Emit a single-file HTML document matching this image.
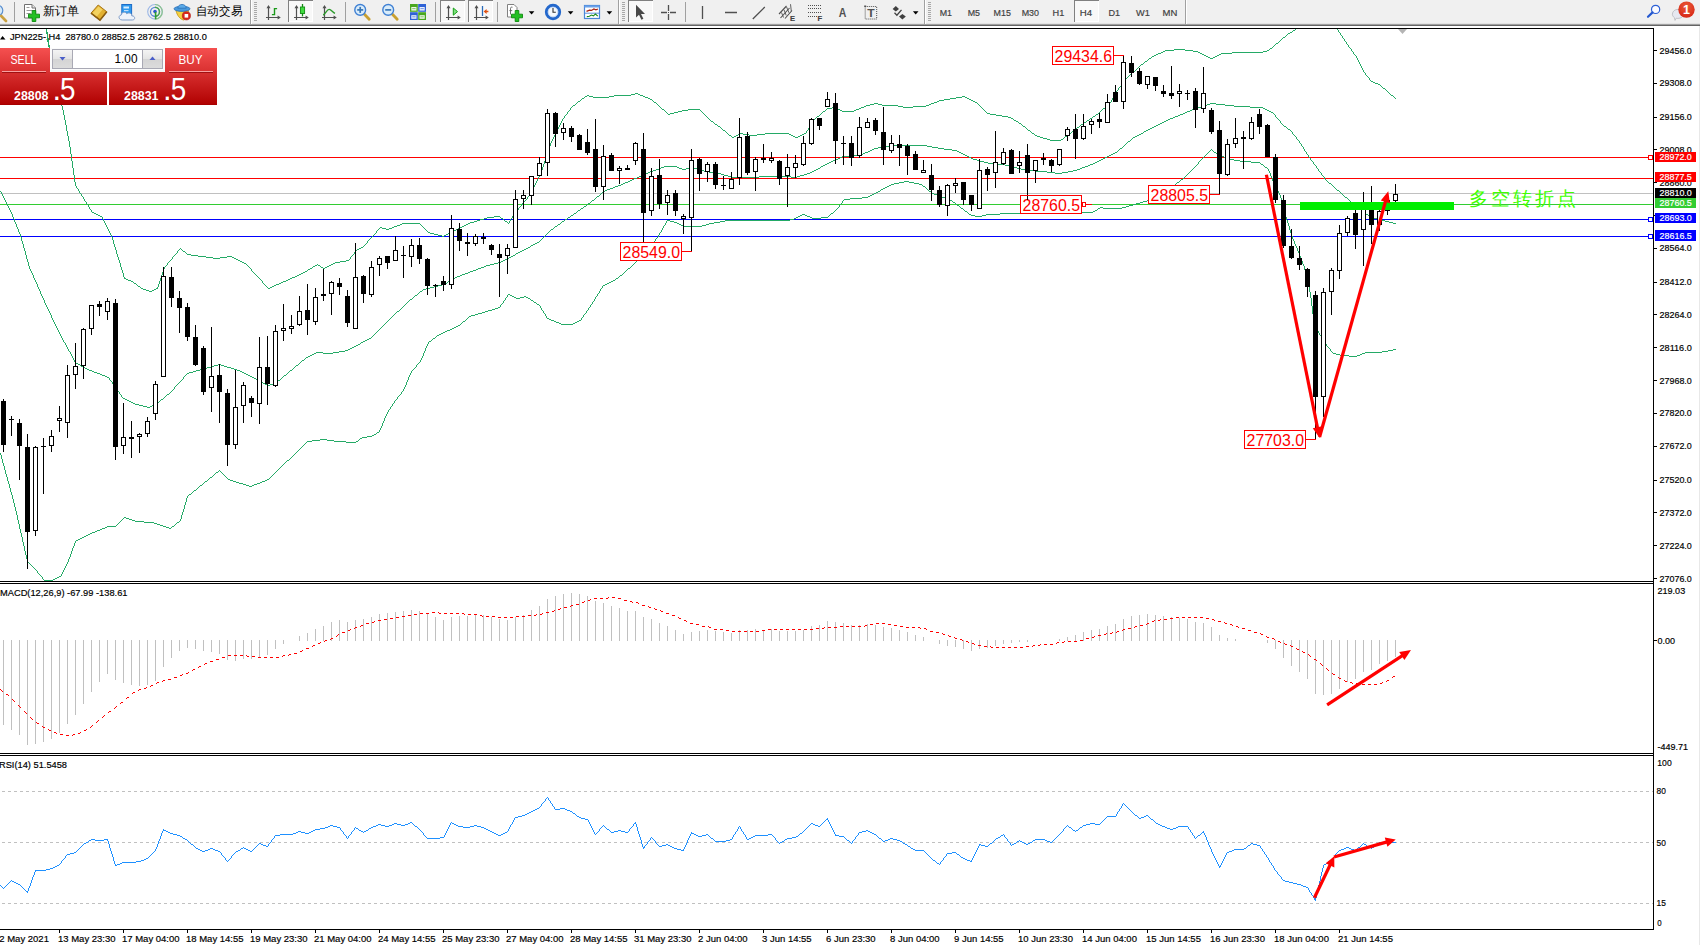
<!DOCTYPE html>
<html lang="zh"><head><meta charset="utf-8"><title>JPN225 H4</title>
<style>
html,body{margin:0;padding:0;background:#fff;overflow:hidden;width:1700px;height:945px}
svg{display:block;position:absolute;left:0;top:0}
text{font-family:"Liberation Sans",sans-serif;white-space:pre}
</style></head><body>
<svg width="1700" height="945" viewBox="0 0 1700 945">
<rect x="0" y="0" width="1700" height="945" fill="#fff"/>
<g shape-rendering="crispEdges">
<rect x="0" y="157" width="1654" height="1" fill="#ff0000"/>
<rect x="0" y="178" width="1654" height="1" fill="#ff0000"/>
<rect x="0" y="193" width="1654" height="1" fill="#c0c0c0"/>
<rect x="0" y="204" width="1654" height="1" fill="#32cd32"/>
<rect x="0" y="219" width="1654" height="1" fill="#0000ff"/>
<rect x="0" y="236" width="1654" height="1" fill="#0000ff"/>
</g>
<path d="M46 29h1v3h-1zM1295 29h1v1h-1zM1293 30h2v1h-2zM1292 31h1v1h-1zM47 32h1v6h-1zM1290 32h2v1h-2zM1288 33h2v1h-2zM1287 34h1v1h-1zM1286 35h1v1h-1zM1285 36h1v1h-1zM1283 37h2v1h-2zM48 38h1v7h-1zM1282 38h1v1h-1zM1281 39h1v1h-1zM1280 40h1v1h-1zM1279 41h1v1h-1zM1278 42h1v1h-1zM1276 43h2v1h-2zM1275 44h1v1h-1zM49 45h1v7h-1zM1274 45h1v1h-1zM1273 46h1v1h-1zM1272 47h1v1h-1zM1270 48h2v1h-2zM1174 49h11v1h-11zM1269 49h1v1h-1zM1165 50h9v1h-9zM1185 50h8v1h-8zM1267 50h2v1h-2zM1163 51h2v1h-2zM1193 51h5v1h-5zM1263 51h4v1h-4zM50 52h1v6h-1zM1161 52h2v1h-2zM1198 52h2v1h-2zM1232 52h31v1h-31zM1158 53h3v1h-3zM1200 53h2v1h-2zM1221 53h11v1h-11zM1156 54h2v1h-2zM1202 54h2v1h-2zM1219 54h2v1h-2zM1154 55h2v1h-2zM1204 55h2v1h-2zM1217 55h2v1h-2zM1152 56h2v1h-2zM1206 56h2v1h-2zM1215 56h2v1h-2zM1151 57h1v1h-1zM1208 57h2v1h-2zM1213 57h2v1h-2zM51 58h1v7h-1zM1149 58h2v1h-2zM1210 58h3v1h-3zM1148 59h1v1h-1zM1147 60h1v1h-1zM1145 61h2v1h-2zM1144 62h1v1h-1zM1143 63h1v1h-1zM1141 64h2v1h-2zM52 65h1v5h-1zM1140 65h1v1h-1zM1139 66h1v1h-1zM1138 67h1v1h-1zM1137 68h1v1h-1zM1136 69h1v1h-1zM53 70h1v4h-1zM1135 70h1v1h-1zM1134 71h1v1h-1zM1132 72h2v1h-2zM1131 73h1v1h-1zM54 74h1v4h-1zM1130 74h1v1h-1zM1129 75h1v1h-1zM1128 76h1v1h-1zM1127 77h1v1h-1zM55 78h1v4h-1zM1126 78h1v1h-1zM1125 79h1v1h-1zM1124 80h1v2h-1zM56 82h1v4h-1zM1123 82h1v1h-1zM1122 83h1v1h-1zM1121 84h1v2h-1zM57 86h1v4h-1zM1120 86h1v1h-1zM1119 87h1v1h-1zM1118 88h1v2h-1zM58 90h1v4h-1zM1117 90h1v1h-1zM1116 91h1v1h-1zM1115 92h1v2h-1zM635 93h3v1h-3zM59 94h1v4h-1zM631 94h4v1h-4zM638 94h2v1h-2zM1114 94h1v2h-1zM587 95h2v1h-2zM614 95h17v1h-17zM640 95h3v1h-3zM585 96h2v1h-2zM589 96h4v1h-4zM609 96h5v1h-5zM643 96h2v1h-2zM962 96h3v1h-3zM1113 96h1v2h-1zM584 97h1v1h-1zM593 97h16v1h-16zM645 97h3v1h-3zM956 97h6v1h-6zM965 97h2v1h-2zM60 98h1v4h-1zM582 98h2v1h-2zM648 98h2v1h-2zM950 98h6v1h-6zM967 98h2v1h-2zM1112 98h1v2h-1zM581 99h1v1h-1zM650 99h2v1h-2zM944 99h6v1h-6zM969 99h2v1h-2zM580 100h1v1h-1zM652 100h1v1h-1zM939 100h5v1h-5zM971 100h2v1h-2zM1111 100h1v2h-1zM578 101h2v1h-2zM653 101h1v1h-1zM937 101h2v1h-2zM973 101h2v1h-2zM61 102h1v4h-1zM577 102h1v1h-1zM654 102h2v1h-2zM934 102h3v1h-3zM975 102h2v1h-2zM1110 102h1v1h-1zM576 103h1v1h-1zM656 103h1v1h-1zM874 103h4v1h-4zM931 103h3v1h-3zM977 103h1v1h-1zM1109 103h1v1h-1zM575 104h1v1h-1zM657 104h1v1h-1zM870 104h4v1h-4zM878 104h4v1h-4zM929 104h2v1h-2zM978 104h1v1h-1zM1108 104h1v1h-1zM573 105h2v1h-2zM658 105h1v1h-1zM866 105h4v1h-4zM882 105h16v1h-16zM926 105h3v1h-3zM979 105h1v1h-1zM1107 105h1v1h-1zM62 106h1v4h-1zM572 106h1v1h-1zM659 106h1v1h-1zM864 106h2v1h-2zM898 106h5v1h-5zM913 106h13v1h-13zM980 106h1v1h-1zM1106 106h1v1h-1zM571 107h1v1h-1zM660 107h1v1h-1zM832 107h4v1h-4zM861 107h3v1h-3zM903 107h10v1h-10zM981 107h1v1h-1zM1105 107h1v1h-1zM570 108h1v2h-1zM661 108h1v1h-1zM827 108h5v1h-5zM836 108h2v1h-2zM859 108h2v1h-2zM982 108h1v1h-1zM1103 108h2v1h-2zM662 109h2v1h-2zM688 109h12v1h-12zM826 109h1v1h-1zM838 109h2v1h-2zM856 109h3v1h-3zM983 109h1v1h-1zM1102 109h1v1h-1zM63 110h1v5h-1zM569 110h1v1h-1zM664 110h1v1h-1zM682 110h6v1h-6zM700 110h1v1h-1zM825 110h1v1h-1zM840 110h2v1h-2zM854 110h2v1h-2zM984 110h1v1h-1zM1101 110h1v1h-1zM568 111h1v1h-1zM665 111h1v1h-1zM678 111h4v1h-4zM701 111h1v1h-1zM823 111h2v1h-2zM842 111h12v1h-12zM985 111h1v1h-1zM1100 111h1v1h-1zM567 112h1v2h-1zM666 112h1v1h-1zM674 112h4v1h-4zM702 112h1v1h-1zM822 112h1v1h-1zM986 112h1v1h-1zM1099 112h1v1h-1zM667 113h1v1h-1zM670 113h4v1h-4zM703 113h1v1h-1zM821 113h1v1h-1zM987 113h3v1h-3zM1098 113h1v1h-1zM566 114h1v1h-1zM668 114h2v1h-2zM704 114h1v1h-1zM820 114h1v1h-1zM990 114h6v1h-6zM1096 114h2v1h-2zM64 115h1v5h-1zM565 115h1v1h-1zM705 115h1v1h-1zM819 115h1v1h-1zM996 115h6v1h-6zM1095 115h1v1h-1zM564 116h1v2h-1zM706 116h1v1h-1zM817 116h2v1h-2zM1002 116h6v1h-6zM1093 116h2v1h-2zM707 117h1v1h-1zM816 117h1v1h-1zM1008 117h3v1h-3zM1092 117h1v1h-1zM563 118h1v1h-1zM708 118h1v1h-1zM815 118h1v1h-1zM1011 118h2v1h-2zM1090 118h2v1h-2zM562 119h1v2h-1zM709 119h1v1h-1zM814 119h1v1h-1zM1013 119h1v1h-1zM1089 119h1v1h-1zM65 120h1v5h-1zM710 120h1v1h-1zM813 120h1v2h-1zM1014 120h2v1h-2zM1087 120h2v1h-2zM561 121h1v2h-1zM711 121h2v1h-2zM1016 121h2v1h-2zM1086 121h1v1h-1zM713 122h1v1h-1zM812 122h1v1h-1zM1018 122h1v1h-1zM1084 122h2v1h-2zM560 123h1v2h-1zM714 123h1v1h-1zM811 123h1v2h-1zM1019 123h2v1h-2zM1083 123h1v1h-1zM715 124h2v1h-2zM1021 124h1v1h-1zM1081 124h2v1h-2zM66 125h1v6h-1zM559 125h1v2h-1zM717 125h1v1h-1zM810 125h1v2h-1zM1022 125h1v1h-1zM1080 125h1v1h-1zM718 126h2v1h-2zM1023 126h2v1h-2zM1079 126h1v1h-1zM558 127h1v2h-1zM720 127h1v1h-1zM809 127h1v1h-1zM1025 127h1v1h-1zM1077 127h2v1h-2zM721 128h1v1h-1zM808 128h1v2h-1zM1026 128h1v1h-1zM1076 128h1v1h-1zM557 129h1v2h-1zM722 129h1v1h-1zM1027 129h1v1h-1zM1075 129h1v1h-1zM723 130h2v1h-2zM807 130h1v1h-1zM1028 130h2v1h-2zM1073 130h2v1h-2zM67 131h1v5h-1zM556 131h1v2h-1zM725 131h1v1h-1zM806 131h1v2h-1zM1030 131h1v1h-1zM1072 131h1v1h-1zM726 132h1v1h-1zM1031 132h1v1h-1zM1071 132h1v1h-1zM555 133h1v2h-1zM727 133h1v1h-1zM740 133h3v1h-3zM765 133h24v1h-24zM804 133h2v1h-2zM1032 133h2v1h-2zM1069 133h2v1h-2zM728 134h1v1h-1zM738 134h2v1h-2zM743 134h6v1h-6zM757 134h8v1h-8zM789 134h2v1h-2zM802 134h2v1h-2zM1034 134h1v1h-1zM1068 134h1v1h-1zM554 135h1v2h-1zM729 135h2v1h-2zM736 135h2v1h-2zM749 135h8v1h-8zM791 135h2v1h-2zM800 135h2v1h-2zM1035 135h2v1h-2zM1067 135h1v1h-1zM68 136h1v5h-1zM731 136h1v1h-1zM734 136h2v1h-2zM793 136h2v1h-2zM798 136h2v1h-2zM1037 136h3v1h-3zM1065 136h2v1h-2zM553 137h1v2h-1zM732 137h2v1h-2zM795 137h3v1h-3zM1040 137h3v1h-3zM1064 137h1v1h-1zM1043 138h4v1h-4zM1063 138h1v1h-1zM552 139h1v2h-1zM1047 139h3v1h-3zM1061 139h2v1h-2zM1050 140h11v1h-11zM69 141h1v6h-1zM551 141h1v2h-1zM550 143h1v3h-1zM549 146h1v3h-1zM70 147h1v7h-1zM548 149h1v3h-1zM547 152h1v3h-1zM71 154h1v7h-1zM546 155h1v3h-1zM545 158h1v3h-1zM72 161h1v7h-1zM544 161h1v3h-1zM543 164h1v3h-1zM542 167h1v3h-1zM73 168h1v7h-1zM541 170h1v3h-1zM540 173h1v2h-1zM74 175h1v7h-1zM539 175h1v2h-1zM538 177h1v2h-1zM537 179h1v2h-1zM536 181h1v2h-1zM75 182h1v4h-1zM535 183h1v2h-1zM534 185h1v2h-1zM76 186h1v2h-1zM533 187h1v2h-1zM77 188h1v1h-1zM78 189h1v2h-1zM532 189h1v2h-1zM79 191h1v2h-1zM531 191h1v2h-1zM80 193h1v1h-1zM530 193h1v2h-1zM81 194h1v2h-1zM529 195h1v1h-1zM82 196h1v1h-1zM528 196h1v1h-1zM83 197h1v2h-1zM527 197h1v2h-1zM84 199h1v2h-1zM526 199h1v1h-1zM525 200h1v1h-1zM85 201h1v1h-1zM524 201h1v1h-1zM86 202h1v2h-1zM523 202h1v1h-1zM522 203h1v2h-1zM87 204h1v1h-1zM88 205h1v2h-1zM521 205h1v1h-1zM520 206h1v1h-1zM89 207h1v2h-1zM519 207h1v1h-1zM518 208h1v2h-1zM90 209h1v1h-1zM91 210h1v2h-1zM517 210h1v1h-1zM516 211h1v1h-1zM92 212h2v1h-2zM515 212h1v2h-1zM94 213h2v1h-2zM96 214h2v1h-2zM514 214h1v1h-1zM98 215h2v1h-2zM513 215h1v1h-1zM100 216h2v1h-2zM494 216h6v1h-6zM512 216h1v2h-1zM102 217h1v2h-1zM487 217h7v1h-7zM500 217h1v1h-1zM484 218h3v1h-3zM501 218h2v1h-2zM511 218h1v1h-1zM103 219h1v2h-1zM480 219h4v1h-4zM503 219h1v1h-1zM510 219h1v2h-1zM477 220h3v1h-3zM504 220h1v1h-1zM104 221h1v2h-1zM474 221h3v1h-3zM505 221h2v1h-2zM509 221h1v2h-1zM470 222h4v1h-4zM507 222h1v1h-1zM105 223h1v2h-1zM402 223h18v1h-18zM468 223h2v1h-2zM508 223h1v1h-1zM400 224h2v1h-2zM420 224h1v1h-1zM466 224h2v1h-2zM106 225h1v2h-1zM397 225h3v1h-3zM421 225h1v1h-1zM464 225h2v1h-2zM394 226h3v1h-3zM422 226h1v1h-1zM462 226h2v1h-2zM107 227h1v2h-1zM380 227h2v1h-2zM392 227h2v1h-2zM423 227h1v1h-1zM460 227h2v1h-2zM379 228h1v1h-1zM382 228h4v1h-4zM389 228h3v1h-3zM424 228h1v1h-1zM458 228h2v1h-2zM108 229h1v2h-1zM378 229h1v1h-1zM386 229h3v1h-3zM425 229h1v1h-1zM456 229h2v1h-2zM377 230h1v1h-1zM426 230h1v1h-1zM454 230h2v1h-2zM109 231h1v2h-1zM376 231h1v2h-1zM427 231h1v1h-1zM452 231h2v1h-2zM428 232h2v1h-2zM450 232h2v1h-2zM110 233h1v2h-1zM375 233h1v1h-1zM430 233h4v1h-4zM448 233h2v1h-2zM374 234h1v1h-1zM434 234h4v1h-4zM446 234h2v1h-2zM111 235h1v2h-1zM373 235h1v1h-1zM438 235h4v1h-4zM444 235h2v1h-2zM372 236h1v1h-1zM442 236h2v1h-2zM112 237h1v3h-1zM371 237h1v1h-1zM370 238h1v1h-1zM369 239h1v1h-1zM113 240h1v4h-1zM368 240h1v1h-1zM367 241h1v2h-1zM366 243h1v1h-1zM114 244h1v3h-1zM365 244h1v1h-1zM364 245h1v1h-1zM363 246h1v1h-1zM115 247h1v3h-1zM361 247h2v1h-2zM180 248h1v1h-1zM359 248h2v1h-2zM179 249h1v1h-1zM181 249h1v1h-1zM357 249h2v1h-2zM116 250h1v4h-1zM178 250h1v1h-1zM182 250h1v1h-1zM356 250h1v1h-1zM177 251h1v2h-1zM183 251h2v1h-2zM355 251h1v1h-1zM185 252h1v1h-1zM354 252h1v2h-1zM176 253h1v1h-1zM186 253h1v1h-1zM117 254h1v3h-1zM175 254h1v1h-1zM187 254h4v1h-4zM353 254h1v1h-1zM174 255h1v1h-1zM191 255h7v1h-7zM352 255h1v1h-1zM173 256h1v1h-1zM198 256h8v1h-8zM227 256h5v1h-5zM351 256h1v1h-1zM118 257h1v3h-1zM172 257h1v2h-1zM206 257h7v1h-7zM220 257h7v1h-7zM232 257h2v1h-2zM350 257h1v2h-1zM213 258h7v1h-7zM234 258h2v1h-2zM171 259h1v1h-1zM236 259h2v1h-2zM349 259h1v1h-1zM119 260h1v3h-1zM170 260h1v1h-1zM238 260h2v1h-2zM346 260h3v1h-3zM169 261h1v1h-1zM240 261h2v1h-2zM340 261h6v1h-6zM168 262h1v1h-1zM242 262h2v1h-2zM335 262h5v1h-5zM120 263h1v4h-1zM167 263h1v2h-1zM244 263h2v1h-2zM333 263h2v1h-2zM246 264h1v1h-1zM317 264h1v1h-1zM331 264h2v1h-2zM166 265h1v1h-1zM247 265h1v1h-1zM315 265h2v1h-2zM318 265h2v1h-2zM329 265h2v1h-2zM165 266h1v1h-1zM248 266h1v1h-1zM313 266h2v1h-2zM320 266h1v1h-1zM327 266h2v1h-2zM121 267h1v3h-1zM164 267h1v2h-1zM249 267h1v1h-1zM312 267h1v1h-1zM321 267h2v1h-2zM325 267h2v1h-2zM250 268h1v1h-1zM310 268h2v1h-2zM323 268h2v1h-2zM163 269h1v3h-1zM251 269h1v2h-1zM308 269h2v1h-2zM122 270h1v3h-1zM307 270h1v1h-1zM252 271h1v1h-1zM305 271h2v1h-2zM162 272h1v3h-1zM253 272h1v1h-1zM303 272h2v1h-2zM123 273h1v4h-1zM254 273h1v1h-1zM301 273h2v1h-2zM255 274h1v1h-1zM299 274h2v1h-2zM161 275h1v3h-1zM256 275h1v1h-1zM297 275h2v1h-2zM257 276h1v1h-1zM295 276h2v1h-2zM124 277h1v2h-1zM258 277h1v1h-1zM292 277h3v1h-3zM125 278h1v1h-1zM160 278h1v3h-1zM259 278h1v1h-1zM290 278h2v1h-2zM126 279h2v1h-2zM260 279h1v1h-1zM288 279h2v1h-2zM128 280h3v1h-3zM261 280h1v1h-1zM286 280h2v1h-2zM131 281h2v1h-2zM159 281h1v3h-1zM262 281h1v2h-1zM283 281h3v1h-3zM133 282h1v1h-1zM281 282h2v1h-2zM134 283h2v1h-2zM263 283h1v1h-1zM279 283h2v1h-2zM136 284h1v1h-1zM158 284h1v3h-1zM264 284h1v1h-1zM276 284h3v1h-3zM137 285h1v1h-1zM265 285h1v1h-1zM274 285h2v1h-2zM138 286h2v1h-2zM266 286h1v1h-1zM272 286h2v1h-2zM140 287h1v1h-1zM157 287h1v2h-1zM267 287h1v1h-1zM270 287h2v1h-2zM141 288h2v1h-2zM156 288h1v1h-1zM268 288h2v1h-2zM143 289h3v1h-3zM154 289h2v1h-2zM146 290h3v1h-3zM152 290h2v1h-2zM149 291h3v1h-3z" fill="#24aa66" shape-rendering="crispEdges"/>
<path d="M1337 29h1v1h-1zM1338 30h1v2h-1zM1339 32h1v1h-1zM1340 33h1v2h-1zM1341 35h1v1h-1zM1342 36h1v2h-1zM1343 38h1v1h-1zM1344 39h1v2h-1zM1345 41h1v1h-1zM1346 42h1v2h-1zM1347 44h1v1h-1zM1348 45h1v2h-1zM1349 47h1v1h-1zM1350 48h1v1h-1zM1351 49h1v2h-1zM1352 51h1v1h-1zM1353 52h1v2h-1zM1354 54h1v1h-1zM1355 55h1v1h-1zM1356 56h1v2h-1zM1357 58h1v2h-1zM1358 60h1v2h-1zM1359 62h1v2h-1zM1360 64h1v2h-1zM1361 66h1v2h-1zM1362 68h1v2h-1zM1363 70h1v2h-1zM1364 72h1v1h-1zM1365 73h1v2h-1zM1366 75h1v1h-1zM1367 76h1v1h-1zM1368 77h1v1h-1zM1369 78h1v2h-1zM1370 80h1v1h-1zM1371 81h2v1h-2zM1373 82h2v1h-2zM1375 83h3v1h-3zM1378 84h2v1h-2zM1380 85h1v1h-1zM1381 86h1v1h-1zM1382 87h1v1h-1zM1383 88h2v1h-2zM1385 89h1v1h-1zM1386 90h1v1h-1zM1387 91h1v1h-1zM1388 92h1v1h-1zM1389 93h1v1h-1zM1390 94h1v1h-1zM1391 95h2v1h-2zM1393 96h1v1h-1zM1394 97h1v1h-1zM1395 98h1v1h-1z" fill="#24aa66" shape-rendering="crispEdges"/>
<path d="M1210 103h6v1h-6zM1207 104h3v1h-3zM1216 104h9v1h-9zM1204 105h3v1h-3zM1225 105h9v1h-9zM1201 106h3v1h-3zM1234 106h16v1h-16zM1198 107h3v1h-3zM1250 107h13v1h-13zM1195 108h3v1h-3zM1263 108h2v1h-2zM1192 109h3v1h-3zM1265 109h2v1h-2zM1190 110h2v1h-2zM1267 110h2v1h-2zM1187 111h3v1h-3zM1269 111h2v1h-2zM1185 112h2v1h-2zM1271 112h2v1h-2zM1183 113h2v1h-2zM1273 113h1v1h-1zM1180 114h3v1h-3zM1274 114h1v1h-1zM1178 115h2v1h-2zM1275 115h1v2h-1zM1175 116h3v1h-3zM1173 117h2v1h-2zM1276 117h1v1h-1zM1170 118h3v1h-3zM1277 118h1v1h-1zM1168 119h2v1h-2zM1278 119h1v1h-1zM1166 120h2v1h-2zM1279 120h1v1h-1zM1164 121h2v1h-2zM1280 121h1v2h-1zM1162 122h2v1h-2zM1160 123h2v1h-2zM1281 123h1v1h-1zM1158 124h2v1h-2zM1282 124h1v1h-1zM1156 125h2v1h-2zM1283 125h1v1h-1zM1154 126h2v1h-2zM1284 126h2v1h-2zM1152 127h2v1h-2zM1286 127h1v1h-1zM1150 128h2v1h-2zM1287 128h1v1h-1zM1148 129h2v1h-2zM1288 129h2v1h-2zM1146 130h2v1h-2zM1290 130h1v1h-1zM1144 131h2v1h-2zM1291 131h1v1h-1zM1143 132h1v1h-1zM1292 132h1v2h-1zM1141 133h2v1h-2zM1139 134h2v1h-2zM1293 134h1v1h-1zM1137 135h2v1h-2zM1294 135h1v1h-1zM1135 136h2v1h-2zM1295 136h1v1h-1zM1133 137h2v1h-2zM1296 137h1v2h-1zM1132 138h1v1h-1zM1131 139h1v1h-1zM1297 139h1v1h-1zM1130 140h1v1h-1zM1298 140h1v1h-1zM1128 141h2v1h-2zM1299 141h1v2h-1zM1127 142h1v1h-1zM1126 143h1v1h-1zM1300 143h1v1h-1zM1125 144h1v1h-1zM1301 144h1v2h-1zM889 145h38v1h-38zM1124 145h1v1h-1zM884 146h5v1h-5zM927 146h5v1h-5zM1123 146h1v1h-1zM1302 146h1v1h-1zM878 147h6v1h-6zM932 147h6v1h-6zM1122 147h1v1h-1zM1303 147h1v2h-1zM874 148h4v1h-4zM938 148h6v1h-6zM1120 148h2v1h-2zM872 149h2v1h-2zM944 149h8v1h-8zM1119 149h1v1h-1zM1304 149h1v2h-1zM870 150h2v1h-2zM952 150h5v1h-5zM1118 150h1v1h-1zM868 151h2v1h-2zM957 151h2v1h-2zM1117 151h1v1h-1zM1305 151h1v1h-1zM865 152h3v1h-3zM959 152h2v1h-2zM1115 152h2v1h-2zM1306 152h1v2h-1zM863 153h2v1h-2zM961 153h2v1h-2zM1113 153h2v1h-2zM861 154h2v1h-2zM963 154h2v1h-2zM1111 154h2v1h-2zM1307 154h1v1h-1zM852 155h9v1h-9zM965 155h2v1h-2zM1109 155h2v1h-2zM1308 155h1v2h-1zM842 156h10v1h-10zM967 156h2v1h-2zM1107 156h2v1h-2zM840 157h2v1h-2zM969 157h2v1h-2zM1105 157h2v1h-2zM1309 157h1v1h-1zM838 158h2v1h-2zM971 158h2v1h-2zM1103 158h2v1h-2zM1310 158h1v2h-1zM836 159h2v1h-2zM973 159h4v1h-4zM1101 159h2v1h-2zM833 160h3v1h-3zM977 160h3v1h-3zM1099 160h2v1h-2zM1311 160h1v1h-1zM831 161h2v1h-2zM980 161h4v1h-4zM1097 161h2v1h-2zM1312 161h1v1h-1zM829 162h2v1h-2zM984 162h4v1h-4zM1095 162h2v1h-2zM1313 162h1v2h-1zM827 163h2v1h-2zM988 163h8v1h-8zM1093 163h2v1h-2zM825 164h2v1h-2zM996 164h9v1h-9zM1090 164h3v1h-3zM1314 164h1v1h-1zM823 165h2v1h-2zM1005 165h4v1h-4zM1088 165h2v1h-2zM1315 165h1v1h-1zM664 166h13v1h-13zM821 166h2v1h-2zM1009 166h4v1h-4zM1085 166h3v1h-3zM1316 166h1v2h-1zM661 167h3v1h-3zM677 167h2v1h-2zM690 167h3v1h-3zM820 167h1v1h-1zM1013 167h4v1h-4zM1082 167h3v1h-3zM659 168h2v1h-2zM679 168h3v1h-3zM686 168h4v1h-4zM693 168h4v1h-4zM818 168h2v1h-2zM1017 168h4v1h-4zM1080 168h2v1h-2zM1317 168h1v1h-1zM656 169h3v1h-3zM682 169h4v1h-4zM697 169h3v1h-3zM816 169h2v1h-2zM1021 169h4v1h-4zM1077 169h3v1h-3zM1318 169h1v2h-1zM653 170h3v1h-3zM700 170h4v1h-4zM814 170h2v1h-2zM1025 170h10v1h-10zM1073 170h4v1h-4zM650 171h3v1h-3zM704 171h5v1h-5zM812 171h2v1h-2zM1035 171h12v1h-12zM1068 171h5v1h-5zM1319 171h1v1h-1zM648 172h2v1h-2zM709 172h7v1h-7zM810 172h2v1h-2zM1047 172h8v1h-8zM1062 172h6v1h-6zM1320 172h1v1h-1zM646 173h2v1h-2zM716 173h5v1h-5zM807 173h3v1h-3zM1055 173h7v1h-7zM1321 173h1v2h-1zM644 174h2v1h-2zM721 174h3v1h-3zM804 174h3v1h-3zM641 175h3v1h-3zM724 175h4v1h-4zM800 175h4v1h-4zM1322 175h1v1h-1zM639 176h2v1h-2zM728 176h3v1h-3zM759 176h32v1h-32zM797 176h3v1h-3zM1323 176h1v1h-1zM637 177h2v1h-2zM731 177h28v1h-28zM791 177h6v1h-6zM1324 177h1v2h-1zM634 178h3v1h-3zM632 179h2v1h-2zM1325 179h1v1h-1zM630 180h2v1h-2zM1326 180h1v1h-1zM628 181h2v1h-2zM1327 181h1v1h-1zM625 182h3v1h-3zM1328 182h1v1h-1zM623 183h2v1h-2zM1329 183h2v1h-2zM621 184h2v1h-2zM1331 184h1v1h-1zM618 185h3v1h-3zM1332 185h1v1h-1zM615 186h3v1h-3zM1333 186h1v1h-1zM613 187h2v1h-2zM1334 187h1v1h-1zM610 188h3v1h-3zM1335 188h1v1h-1zM607 189h3v1h-3zM1336 189h1v1h-1zM605 190h2v1h-2zM1337 190h2v1h-2zM0 191h1v1h-1zM604 191h1v1h-1zM1339 191h1v1h-1zM1 192h1v2h-1zM602 192h2v1h-2zM1340 192h1v1h-1zM601 193h1v1h-1zM1341 193h1v1h-1zM2 194h1v2h-1zM600 194h1v1h-1zM1342 194h1v1h-1zM599 195h1v1h-1zM1343 195h1v1h-1zM3 196h1v2h-1zM597 196h2v1h-2zM1344 196h1v1h-1zM596 197h1v1h-1zM1345 197h2v1h-2zM4 198h1v2h-1zM595 198h1v1h-1zM1347 198h1v1h-1zM594 199h1v1h-1zM1348 199h1v1h-1zM5 200h1v2h-1zM592 200h2v1h-2zM1349 200h1v1h-1zM591 201h1v1h-1zM1350 201h1v1h-1zM6 202h1v2h-1zM590 202h1v1h-1zM1351 202h1v1h-1zM588 203h2v1h-2zM1352 203h2v1h-2zM7 204h1v2h-1zM587 204h1v1h-1zM1354 204h1v1h-1zM586 205h1v1h-1zM1355 205h1v1h-1zM8 206h1v2h-1zM584 206h2v1h-2zM1356 206h1v1h-1zM583 207h1v1h-1zM1357 207h2v1h-2zM9 208h1v2h-1zM581 208h2v1h-2zM1359 208h1v1h-1zM580 209h1v1h-1zM1360 209h1v1h-1zM10 210h1v2h-1zM578 210h2v1h-2zM1361 210h1v1h-1zM577 211h1v1h-1zM1362 211h2v1h-2zM11 212h1v2h-1zM576 212h1v1h-1zM1364 212h1v1h-1zM574 213h2v1h-2zM1365 213h1v1h-1zM12 214h1v3h-1zM573 214h1v1h-1zM1366 214h2v1h-2zM571 215h2v1h-2zM1368 215h2v1h-2zM570 216h1v1h-1zM1370 216h2v1h-2zM13 217h1v2h-1zM568 217h2v1h-2zM1372 217h2v1h-2zM567 218h1v1h-1zM1374 218h3v1h-3zM14 219h1v3h-1zM565 219h2v1h-2zM1377 219h4v1h-4zM564 220h1v1h-1zM1381 220h4v1h-4zM562 221h2v1h-2zM1385 221h4v1h-4zM15 222h1v2h-1zM561 222h1v1h-1zM1389 222h4v1h-4zM560 223h1v1h-1zM1393 223h3v1h-3zM16 224h1v3h-1zM558 224h2v1h-2zM557 225h1v1h-1zM555 226h2v1h-2zM17 227h1v2h-1zM554 227h1v1h-1zM553 228h1v1h-1zM18 229h1v3h-1zM551 229h2v1h-2zM550 230h1v1h-1zM549 231h1v1h-1zM19 232h1v2h-1zM548 232h1v1h-1zM547 233h1v1h-1zM20 234h1v3h-1zM546 234h1v1h-1zM545 235h1v1h-1zM544 236h1v1h-1zM21 237h1v4h-1zM543 237h1v1h-1zM542 238h1v1h-1zM541 239h1v1h-1zM540 240h1v1h-1zM22 241h1v3h-1zM539 241h1v1h-1zM537 242h2v1h-2zM535 243h2v1h-2zM23 244h1v4h-1zM533 244h2v1h-2zM531 245h2v1h-2zM530 246h1v1h-1zM528 247h2v1h-2zM24 248h1v3h-1zM526 248h2v1h-2zM524 249h2v1h-2zM522 250h2v1h-2zM25 251h1v4h-1zM520 251h2v1h-2zM518 252h2v1h-2zM516 253h2v1h-2zM515 254h1v1h-1zM26 255h1v4h-1zM513 255h2v1h-2zM511 256h2v1h-2zM509 257h2v1h-2zM507 258h2v1h-2zM27 259h1v3h-1zM505 259h2v1h-2zM503 260h2v1h-2zM501 261h2v1h-2zM28 262h1v4h-1zM498 262h3v1h-3zM494 263h4v1h-4zM490 264h4v1h-4zM486 265h4v1h-4zM29 266h1v3h-1zM484 266h2v1h-2zM481 267h3v1h-3zM478 268h3v1h-3zM30 269h1v2h-1zM476 269h2v1h-2zM473 270h3v1h-3zM31 271h1v2h-1zM470 271h3v1h-3zM468 272h2v1h-2zM32 273h1v2h-1zM465 273h3v1h-3zM462 274h3v1h-3zM33 275h1v3h-1zM460 275h2v1h-2zM457 276h3v1h-3zM455 277h2v1h-2zM34 278h1v2h-1zM453 278h2v1h-2zM452 279h1v1h-1zM35 280h1v2h-1zM450 280h2v1h-2zM448 281h2v1h-2zM36 282h1v2h-1zM447 282h1v1h-1zM445 283h2v1h-2zM37 284h1v3h-1zM442 284h3v1h-3zM438 285h4v1h-4zM434 286h4v1h-4zM38 287h1v2h-1zM430 287h4v1h-4zM426 288h4v1h-4zM39 289h1v2h-1zM423 289h3v1h-3zM422 290h1v1h-1zM40 291h1v3h-1zM420 291h2v1h-2zM419 292h1v1h-1zM418 293h1v1h-1zM41 294h1v2h-1zM417 294h1v1h-1zM415 295h2v1h-2zM42 296h1v2h-1zM414 296h1v1h-1zM413 297h1v1h-1zM43 298h1v2h-1zM412 298h1v1h-1zM410 299h2v1h-2zM44 300h1v3h-1zM409 300h1v1h-1zM408 301h1v1h-1zM407 302h1v1h-1zM45 303h1v2h-1zM406 303h1v1h-1zM405 304h1v1h-1zM46 305h1v2h-1zM404 305h1v1h-1zM403 306h1v1h-1zM47 307h1v2h-1zM402 307h1v1h-1zM401 308h1v1h-1zM48 309h1v2h-1zM400 309h1v1h-1zM399 310h1v1h-1zM49 311h1v2h-1zM397 311h2v1h-2zM396 312h1v1h-1zM50 313h1v2h-1zM395 313h1v1h-1zM394 314h1v1h-1zM51 315h1v3h-1zM393 315h1v1h-1zM392 316h1v1h-1zM391 317h1v1h-1zM52 318h1v2h-1zM390 318h1v1h-1zM389 319h1v1h-1zM53 320h1v2h-1zM388 320h1v1h-1zM387 321h1v1h-1zM54 322h1v2h-1zM386 322h1v1h-1zM385 323h1v1h-1zM55 324h1v2h-1zM384 324h1v1h-1zM383 325h1v1h-1zM56 326h1v2h-1zM382 326h1v1h-1zM381 327h1v1h-1zM57 328h1v2h-1zM380 328h1v1h-1zM379 329h1v1h-1zM58 330h1v2h-1zM378 330h1v1h-1zM377 331h1v1h-1zM59 332h1v2h-1zM376 332h1v1h-1zM375 333h1v1h-1zM60 334h1v2h-1zM374 334h1v1h-1zM373 335h1v1h-1zM61 336h1v2h-1zM372 336h1v1h-1zM371 337h1v1h-1zM62 338h1v2h-1zM369 338h2v1h-2zM367 339h2v1h-2zM63 340h1v2h-1zM365 340h2v1h-2zM363 341h2v1h-2zM64 342h1v1h-1zM361 342h2v1h-2zM65 343h1v2h-1zM360 343h1v1h-1zM358 344h2v1h-2zM66 345h1v2h-1zM356 345h2v1h-2zM354 346h2v1h-2zM67 347h1v2h-1zM352 347h2v1h-2zM350 348h2v1h-2zM68 349h1v2h-1zM348 349h2v1h-2zM345 350h3v1h-3zM69 351h1v1h-1zM339 351h6v1h-6zM70 352h1v2h-1zM316 352h7v1h-7zM333 352h6v1h-6zM314 353h2v1h-2zM323 353h10v1h-10zM71 354h1v2h-1zM312 354h2v1h-2zM310 355h2v1h-2zM72 356h1v2h-1zM308 356h2v1h-2zM306 357h2v1h-2zM73 358h1v2h-1zM305 358h1v1h-1zM304 359h1v1h-1zM74 360h1v2h-1zM302 360h2v1h-2zM301 361h1v1h-1zM75 362h1v1h-1zM300 362h1v1h-1zM76 363h2v1h-2zM299 363h1v1h-1zM78 364h2v1h-2zM218 364h3v1h-3zM298 364h1v1h-1zM80 365h1v1h-1zM214 365h4v1h-4zM221 365h3v1h-3zM296 365h2v1h-2zM81 366h2v1h-2zM211 366h3v1h-3zM224 366h3v1h-3zM295 366h1v1h-1zM83 367h2v1h-2zM207 367h4v1h-4zM227 367h4v1h-4zM294 367h1v1h-1zM85 368h2v1h-2zM204 368h3v1h-3zM231 368h3v1h-3zM293 368h1v1h-1zM87 369h2v1h-2zM200 369h4v1h-4zM234 369h3v1h-3zM292 369h1v1h-1zM89 370h3v1h-3zM196 370h4v1h-4zM237 370h3v1h-3zM290 370h2v1h-2zM92 371h2v1h-2zM193 371h3v1h-3zM240 371h2v1h-2zM289 371h1v1h-1zM94 372h3v1h-3zM189 372h4v1h-4zM242 372h2v1h-2zM288 372h1v1h-1zM97 373h3v1h-3zM187 373h2v1h-2zM244 373h2v1h-2zM287 373h1v1h-1zM100 374h2v1h-2zM186 374h1v1h-1zM246 374h2v1h-2zM286 374h1v1h-1zM102 375h3v1h-3zM185 375h1v1h-1zM248 375h2v1h-2zM284 375h2v1h-2zM105 376h2v1h-2zM184 376h1v1h-1zM250 376h2v1h-2zM283 376h1v1h-1zM107 377h2v1h-2zM183 377h1v2h-1zM252 377h2v1h-2zM282 377h1v1h-1zM109 378h1v2h-1zM254 378h2v1h-2zM281 378h1v1h-1zM182 379h1v1h-1zM256 379h2v1h-2zM280 379h1v1h-1zM110 380h1v1h-1zM181 380h1v1h-1zM258 380h1v1h-1zM278 380h2v1h-2zM111 381h1v1h-1zM180 381h1v1h-1zM259 381h2v1h-2zM277 381h1v1h-1zM112 382h1v2h-1zM179 382h1v1h-1zM261 382h2v1h-2zM276 382h1v1h-1zM178 383h1v1h-1zM263 383h2v1h-2zM274 383h2v1h-2zM113 384h1v1h-1zM177 384h1v1h-1zM265 384h2v1h-2zM270 384h4v1h-4zM114 385h1v2h-1zM176 385h1v1h-1zM267 385h3v1h-3zM175 386h1v1h-1zM115 387h1v1h-1zM174 387h1v2h-1zM116 388h1v2h-1zM173 389h1v1h-1zM117 390h1v1h-1zM172 390h1v1h-1zM118 391h1v1h-1zM171 391h1v1h-1zM119 392h1v2h-1zM170 392h1v1h-1zM169 393h1v1h-1zM120 394h1v1h-1zM167 394h2v1h-2zM121 395h1v2h-1zM166 395h1v1h-1zM165 396h1v1h-1zM122 397h1v1h-1zM164 397h1v1h-1zM123 398h2v1h-2zM163 398h1v1h-1zM125 399h2v1h-2zM161 399h2v1h-2zM127 400h2v1h-2zM160 400h1v1h-1zM129 401h2v1h-2zM159 401h1v1h-1zM131 402h2v1h-2zM157 402h2v1h-2zM133 403h2v1h-2zM155 403h2v1h-2zM135 404h4v1h-4zM154 404h1v1h-1zM139 405h4v1h-4zM152 405h2v1h-2zM143 406h4v1h-4zM150 406h2v1h-2zM147 407h3v1h-3z" fill="#24aa66" shape-rendering="crispEdges"/>
<path d="M1211 149h1v1h-1zM1210 150h1v1h-1zM1212 150h1v1h-1zM1209 151h1v1h-1zM1213 151h1v1h-1zM1208 152h1v1h-1zM1214 152h2v1h-2zM1207 153h1v1h-1zM1216 153h1v1h-1zM1206 154h1v1h-1zM1217 154h2v1h-2zM1205 155h1v1h-1zM1219 155h3v1h-3zM1204 156h1v1h-1zM1222 156h2v1h-2zM1203 157h1v1h-1zM1224 157h3v1h-3zM1202 158h1v1h-1zM1227 158h3v1h-3zM1201 159h1v1h-1zM1230 159h4v1h-4zM1200 160h1v1h-1zM1234 160h6v1h-6zM1199 161h1v1h-1zM1240 161h11v1h-11zM1198 162h1v2h-1zM1251 162h9v1h-9zM1260 163h1v1h-1zM1197 164h1v1h-1zM1261 164h2v1h-2zM1196 165h1v1h-1zM1263 165h1v1h-1zM1195 166h1v1h-1zM1264 166h1v1h-1zM1194 167h1v1h-1zM1265 167h2v1h-2zM1193 168h1v1h-1zM1267 168h1v1h-1zM1192 169h1v1h-1zM1268 169h1v2h-1zM1191 170h1v1h-1zM1190 171h1v1h-1zM1269 171h1v2h-1zM1189 172h1v1h-1zM1188 173h1v1h-1zM1270 173h1v3h-1zM1187 174h1v1h-1zM1186 175h1v1h-1zM1185 176h1v1h-1zM1271 176h1v2h-1zM1184 177h1v1h-1zM1183 178h1v1h-1zM1272 178h1v3h-1zM1181 179h2v1h-2zM1180 180h1v1h-1zM904 181h5v1h-5zM1179 181h1v1h-1zM1273 181h1v2h-1zM899 182h5v1h-5zM909 182h5v1h-5zM1177 182h2v1h-2zM894 183h5v1h-5zM914 183h5v1h-5zM1176 183h1v1h-1zM1274 183h1v2h-1zM891 184h3v1h-3zM919 184h3v1h-3zM1175 184h1v1h-1zM889 185h2v1h-2zM922 185h1v1h-1zM1173 185h2v1h-2zM1275 185h1v2h-1zM887 186h2v1h-2zM923 186h2v1h-2zM1171 186h2v1h-2zM885 187h2v1h-2zM925 187h1v1h-1zM1170 187h1v1h-1zM1276 187h1v2h-1zM883 188h2v1h-2zM926 188h1v1h-1zM1168 188h2v1h-2zM881 189h2v1h-2zM927 189h1v1h-1zM1166 189h2v1h-2zM1277 189h1v2h-1zM880 190h1v1h-1zM928 190h1v1h-1zM1165 190h1v1h-1zM878 191h2v1h-2zM929 191h2v1h-2zM1163 191h2v1h-2zM1278 191h1v2h-1zM876 192h2v1h-2zM931 192h1v1h-1zM1161 192h2v1h-2zM874 193h2v1h-2zM932 193h2v1h-2zM1159 193h2v1h-2zM1279 193h1v2h-1zM872 194h2v1h-2zM934 194h3v1h-3zM1158 194h1v1h-1zM870 195h2v1h-2zM937 195h2v1h-2zM1156 195h2v1h-2zM1280 195h1v3h-1zM868 196h2v1h-2zM939 196h3v1h-3zM1154 196h2v1h-2zM862 197h6v1h-6zM942 197h3v1h-3zM1153 197h1v1h-1zM850 198h12v1h-12zM945 198h2v1h-2zM1151 198h2v1h-2zM1281 198h1v4h-1zM844 199h6v1h-6zM947 199h3v1h-3zM1149 199h2v1h-2zM843 200h1v1h-1zM950 200h2v1h-2zM1147 200h2v1h-2zM842 201h1v2h-1zM952 201h1v1h-1zM1143 201h4v1h-4zM953 202h2v1h-2zM1140 202h3v1h-3zM1282 202h1v4h-1zM841 203h1v1h-1zM955 203h1v1h-1zM1136 203h4v1h-4zM840 204h1v1h-1zM956 204h1v1h-1zM1133 204h3v1h-3zM839 205h1v2h-1zM957 205h2v1h-2zM1129 205h4v1h-4zM959 206h1v1h-1zM1126 206h3v1h-3zM1283 206h1v3h-1zM838 207h1v1h-1zM960 207h1v1h-1zM1100 207h3v1h-3zM1122 207h4v1h-4zM837 208h1v1h-1zM961 208h2v1h-2zM1098 208h2v1h-2zM1103 208h19v1h-19zM836 209h1v1h-1zM963 209h1v1h-1zM1097 209h1v1h-1zM1284 209h1v4h-1zM835 210h1v1h-1zM964 210h1v1h-1zM1095 210h2v1h-2zM834 211h1v1h-1zM965 211h2v1h-2zM1093 211h2v1h-2zM833 212h1v1h-1zM967 212h1v1h-1zM1047 212h46v1h-46zM831 213h2v1h-2zM968 213h1v1h-1zM1000 213h47v1h-47zM1285 213h1v4h-1zM802 214h3v1h-3zM830 214h1v1h-1zM969 214h2v1h-2zM986 214h14v1h-14zM800 215h2v1h-2zM805 215h2v1h-2zM829 215h1v1h-1zM971 215h4v1h-4zM982 215h4v1h-4zM798 216h2v1h-2zM807 216h3v1h-3zM828 216h1v1h-1zM975 216h7v1h-7zM796 217h2v1h-2zM810 217h2v1h-2zM821 217h7v1h-7zM1286 217h1v3h-1zM794 218h2v1h-2zM812 218h9v1h-9zM790 219h4v1h-4zM667 220h3v1h-3zM725 220h65v1h-65zM1287 220h1v3h-1zM666 221h1v2h-1zM670 221h4v1h-4zM720 221h5v1h-5zM674 222h3v1h-3zM714 222h6v1h-6zM665 223h1v2h-1zM677 223h2v1h-2zM709 223h5v1h-5zM1288 223h1v3h-1zM679 224h2v1h-2zM706 224h3v1h-3zM664 225h1v1h-1zM681 225h2v1h-2zM702 225h4v1h-4zM663 226h1v2h-1zM683 226h19v1h-19zM1289 226h1v4h-1zM662 228h1v2h-1zM661 230h1v2h-1zM1290 230h1v3h-1zM660 232h1v1h-1zM659 233h1v2h-1zM1291 233h1v3h-1zM658 235h1v2h-1zM1292 236h1v3h-1zM657 237h1v1h-1zM656 238h1v1h-1zM655 239h1v2h-1zM1293 239h1v2h-1zM654 241h1v1h-1zM1294 241h1v3h-1zM653 242h1v1h-1zM652 243h1v1h-1zM651 244h1v1h-1zM1295 244h1v2h-1zM650 245h1v1h-1zM649 246h1v2h-1zM1296 246h1v2h-1zM648 248h1v1h-1zM1297 248h1v3h-1zM647 249h1v1h-1zM646 250h1v1h-1zM645 251h1v1h-1zM1298 251h1v2h-1zM644 252h1v1h-1zM643 253h1v1h-1zM1299 253h1v3h-1zM642 254h1v1h-1zM641 255h1v1h-1zM640 256h1v2h-1zM1300 256h1v2h-1zM639 258h1v1h-1zM1301 258h1v3h-1zM638 259h1v1h-1zM637 260h1v1h-1zM636 261h1v1h-1zM1302 261h1v3h-1zM635 262h1v1h-1zM634 263h1v1h-1zM633 264h1v1h-1zM1303 264h1v2h-1zM632 265h1v1h-1zM631 266h1v1h-1zM1304 266h1v4h-1zM630 267h1v1h-1zM628 268h2v1h-2zM627 269h1v1h-1zM626 270h1v1h-1zM1305 270h1v4h-1zM625 271h1v1h-1zM624 272h1v1h-1zM623 273h1v1h-1zM622 274h1v1h-1zM1306 274h1v4h-1zM620 275h2v1h-2zM619 276h1v1h-1zM618 277h1v1h-1zM616 278h2v1h-2zM1307 278h1v4h-1zM615 279h1v1h-1zM613 280h2v1h-2zM611 281h2v1h-2zM609 282h2v1h-2zM1308 282h1v5h-1zM607 283h2v1h-2zM605 284h2v1h-2zM603 285h2v1h-2zM602 286h1v2h-1zM1309 287h1v5h-1zM601 288h1v1h-1zM600 289h1v2h-1zM599 291h1v2h-1zM1310 292h1v6h-1zM598 293h1v1h-1zM508 294h2v1h-2zM597 294h1v2h-1zM507 295h1v2h-1zM510 295h2v1h-2zM512 296h2v1h-2zM524 296h2v1h-2zM596 296h1v1h-1zM506 297h1v1h-1zM514 297h2v1h-2zM520 297h4v1h-4zM526 297h2v1h-2zM595 297h1v2h-1zM505 298h1v2h-1zM516 298h4v1h-4zM528 298h2v1h-2zM1311 298h1v8h-1zM530 299h1v1h-1zM594 299h1v2h-1zM504 300h1v1h-1zM531 300h2v1h-2zM503 301h1v2h-1zM533 301h1v1h-1zM593 301h1v1h-1zM534 302h2v1h-2zM592 302h1v2h-1zM502 303h1v1h-1zM536 303h1v1h-1zM501 304h1v1h-1zM537 304h2v1h-2zM591 304h1v1h-1zM500 305h1v2h-1zM539 305h1v1h-1zM590 305h1v2h-1zM540 306h1v2h-1zM1312 306h1v8h-1zM498 307h2v1h-2zM589 307h1v1h-1zM495 308h3v1h-3zM541 308h1v2h-1zM588 308h1v2h-1zM492 309h3v1h-3zM488 310h4v1h-4zM542 310h1v1h-1zM587 310h1v1h-1zM485 311h3v1h-3zM543 311h1v2h-1zM586 311h1v2h-1zM482 312h3v1h-3zM478 313h4v1h-4zM544 313h1v1h-1zM585 313h1v1h-1zM475 314h3v1h-3zM545 314h1v2h-1zM584 314h1v1h-1zM1313 314h1v3h-1zM471 315h4v1h-4zM583 315h1v2h-1zM469 316h2v1h-2zM546 316h1v2h-1zM468 317h1v1h-1zM582 317h1v1h-1zM1314 317h1v4h-1zM467 318h1v1h-1zM547 318h2v1h-2zM581 318h1v2h-1zM466 319h1v1h-1zM549 319h2v1h-2zM465 320h1v1h-1zM551 320h3v1h-3zM579 320h2v1h-2zM463 321h2v1h-2zM554 321h2v1h-2zM577 321h2v1h-2zM1315 321h1v3h-1zM462 322h1v1h-1zM556 322h3v1h-3zM575 322h2v1h-2zM461 323h1v1h-1zM559 323h2v1h-2zM573 323h2v1h-2zM460 324h1v1h-1zM561 324h12v1h-12zM1316 324h1v3h-1zM458 325h2v1h-2zM456 326h2v1h-2zM454 327h2v1h-2zM1317 327h1v4h-1zM452 328h2v1h-2zM450 329h2v1h-2zM447 330h3v1h-3zM445 331h2v1h-2zM1318 331h1v2h-1zM443 332h2v1h-2zM441 333h2v1h-2zM1319 333h1v2h-1zM439 334h2v1h-2zM437 335h2v1h-2zM1320 335h1v1h-1zM436 336h1v1h-1zM1321 336h1v2h-1zM435 337h1v1h-1zM433 338h2v1h-2zM1322 338h1v1h-1zM432 339h1v1h-1zM1323 339h1v2h-1zM431 340h1v1h-1zM429 341h2v1h-2zM1324 341h1v2h-1zM428 342h1v2h-1zM1325 343h1v1h-1zM427 344h1v2h-1zM1326 344h1v2h-1zM426 346h1v2h-1zM1327 346h1v1h-1zM1328 347h1v1h-1zM425 348h1v3h-1zM1329 348h1v1h-1zM1330 349h1v2h-1zM1393 349h3v1h-3zM1388 350h5v1h-5zM424 351h1v2h-1zM1331 351h1v1h-1zM1382 351h6v1h-6zM1332 352h1v1h-1zM1365 352h17v1h-17zM423 353h1v3h-1zM1333 353h3v1h-3zM1362 353h3v1h-3zM1336 354h4v1h-4zM1360 354h2v1h-2zM1340 355h9v1h-9zM1357 355h3v1h-3zM422 356h1v2h-1zM1349 356h8v1h-8zM421 358h1v2h-1zM420 360h1v2h-1zM419 362h1v1h-1zM418 363h1v1h-1zM417 364h1v1h-1zM416 365h1v2h-1zM415 367h1v1h-1zM414 368h1v1h-1zM413 369h1v1h-1zM412 370h1v1h-1zM411 371h1v2h-1zM410 373h1v2h-1zM409 375h1v2h-1zM408 377h1v3h-1zM407 380h1v2h-1zM406 382h1v3h-1zM405 385h1v2h-1zM404 387h1v2h-1zM403 389h1v2h-1zM402 391h1v1h-1zM401 392h1v2h-1zM400 394h1v1h-1zM399 395h1v1h-1zM398 396h1v1h-1zM397 397h1v2h-1zM396 399h1v1h-1zM395 400h1v1h-1zM394 401h1v2h-1zM393 403h1v1h-1zM392 404h1v2h-1zM391 406h1v1h-1zM390 407h1v2h-1zM389 409h1v1h-1zM388 410h1v2h-1zM387 412h1v2h-1zM386 414h1v2h-1zM385 416h1v2h-1zM384 418h1v3h-1zM383 421h1v2h-1zM382 423h1v3h-1zM381 426h1v2h-1zM380 428h1v2h-1zM379 430h1v2h-1zM377 432h2v1h-2zM376 433h1v1h-1zM374 434h2v1h-2zM372 435h2v1h-2zM367 436h5v1h-5zM362 437h5v1h-5zM360 438h2v1h-2zM320 439h7v1h-7zM359 439h1v1h-1zM312 440h8v1h-8zM327 440h7v1h-7zM358 440h1v1h-1zM307 441h5v1h-5zM334 441h12v1h-12zM356 441h2v1h-2zM306 442h1v1h-1zM346 442h10v1h-10zM305 443h1v1h-1zM304 444h1v1h-1zM303 445h1v1h-1zM302 446h1v1h-1zM301 447h1v1h-1zM300 448h1v1h-1zM299 449h1v1h-1zM298 450h1v1h-1zM297 451h1v1h-1zM296 452h1v1h-1zM0 453h1v2h-1zM295 453h1v1h-1zM294 454h1v1h-1zM1 455h1v4h-1zM293 455h1v1h-1zM292 456h1v1h-1zM291 457h1v1h-1zM290 458h1v1h-1zM2 459h1v4h-1zM289 459h1v1h-1zM287 460h2v1h-2zM286 461h1v1h-1zM285 462h1v1h-1zM3 463h1v3h-1zM284 463h1v1h-1zM283 464h1v1h-1zM282 465h1v1h-1zM4 466h1v4h-1zM281 466h1v1h-1zM280 467h1v1h-1zM279 468h1v1h-1zM278 469h1v1h-1zM5 470h1v4h-1zM219 470h1v1h-1zM277 470h1v1h-1zM218 471h1v1h-1zM220 471h1v1h-1zM276 471h1v1h-1zM216 472h2v1h-2zM221 472h1v1h-1zM275 472h1v1h-1zM215 473h1v1h-1zM222 473h1v1h-1zM274 473h1v1h-1zM6 474h1v3h-1zM214 474h1v1h-1zM223 474h1v1h-1zM273 474h1v1h-1zM213 475h1v1h-1zM224 475h1v1h-1zM272 475h1v1h-1zM212 476h1v1h-1zM225 476h1v1h-1zM271 476h1v1h-1zM7 477h1v4h-1zM210 477h2v1h-2zM226 477h1v1h-1zM270 477h1v1h-1zM209 478h1v1h-1zM227 478h1v1h-1zM269 478h1v1h-1zM208 479h1v1h-1zM228 479h2v1h-2zM267 479h2v1h-2zM207 480h1v1h-1zM230 480h3v1h-3zM265 480h2v1h-2zM8 481h1v3h-1zM205 481h2v1h-2zM233 481h3v1h-3zM262 481h3v1h-3zM204 482h1v1h-1zM236 482h3v1h-3zM260 482h2v1h-2zM203 483h1v1h-1zM239 483h4v1h-4zM257 483h3v1h-3zM9 484h1v4h-1zM202 484h1v1h-1zM243 484h3v1h-3zM254 484h3v1h-3zM200 485h2v1h-2zM246 485h3v1h-3zM252 485h2v1h-2zM199 486h1v1h-1zM249 486h3v1h-3zM198 487h1v1h-1zM10 488h1v4h-1zM197 488h1v1h-1zM196 489h1v1h-1zM194 490h2v1h-2zM193 491h1v1h-1zM11 492h1v3h-1zM192 492h1v1h-1zM191 493h1v1h-1zM189 494h2v1h-2zM12 495h1v4h-1zM188 495h1v1h-1zM187 496h1v2h-1zM186 498h1v4h-1zM13 499h1v4h-1zM185 502h1v3h-1zM14 503h1v4h-1zM184 505h1v4h-1zM15 507h1v4h-1zM183 509h1v3h-1zM16 511h1v4h-1zM182 512h1v3h-1zM17 515h1v5h-1zM181 515h1v4h-1zM124 517h2v1h-2zM123 518h1v1h-1zM126 518h3v1h-3zM122 519h1v1h-1zM129 519h3v1h-3zM180 519h1v2h-1zM18 520h1v4h-1zM121 520h1v1h-1zM132 520h3v1h-3zM120 521h1v1h-1zM135 521h9v1h-9zM179 521h1v1h-1zM119 522h1v1h-1zM144 522h10v1h-10zM177 522h2v1h-2zM118 523h1v1h-1zM154 523h3v1h-3zM176 523h1v1h-1zM19 524h1v5h-1zM117 524h1v1h-1zM157 524h3v1h-3zM175 524h1v1h-1zM116 525h1v1h-1zM160 525h3v1h-3zM174 525h1v1h-1zM107 526h9v1h-9zM163 526h3v1h-3zM172 526h2v1h-2zM105 527h2v1h-2zM166 527h3v1h-3zM171 527h1v1h-1zM102 528h3v1h-3zM169 528h2v1h-2zM20 529h1v4h-1zM100 529h2v1h-2zM97 530h3v1h-3zM95 531h2v1h-2zM92 532h3v1h-3zM21 533h1v4h-1zM90 533h2v1h-2zM88 534h2v1h-2zM86 535h2v1h-2zM84 536h2v1h-2zM22 537h1v5h-1zM82 537h2v1h-2zM80 538h2v1h-2zM78 539h2v1h-2zM76 540h2v1h-2zM75 541h1v2h-1zM23 542h1v4h-1zM74 543h1v3h-1zM24 546h1v5h-1zM73 546h1v2h-1zM72 548h1v3h-1zM25 551h1v4h-1zM71 551h1v3h-1zM70 554h1v3h-1zM26 555h1v4h-1zM69 557h1v2h-1zM27 559h1v3h-1zM68 559h1v3h-1zM28 562h1v1h-1zM67 562h1v2h-1zM29 563h1v1h-1zM30 564h1v1h-1zM66 564h1v2h-1zM31 565h1v1h-1zM32 566h1v1h-1zM65 566h1v2h-1zM33 567h1v1h-1zM34 568h1v1h-1zM64 568h1v2h-1zM35 569h1v1h-1zM36 570h1v1h-1zM63 570h1v2h-1zM37 571h1v2h-1zM62 572h1v2h-1zM38 573h1v1h-1zM39 574h1v1h-1zM61 574h1v2h-1zM40 575h1v1h-1zM41 576h1v1h-1zM59 576h2v1h-2zM42 577h1v2h-1zM57 577h2v1h-2zM55 578h2v1h-2zM43 579h1v1h-1zM53 579h2v1h-2zM44 580h9v1h-9z" fill="#24aa66" shape-rendering="crispEdges"/>
<g shape-rendering="crispEdges">
<rect x="3" y="399" width="1" height="53" fill="#000"/>
<rect x="1" y="401" width="5" height="44" fill="#000"/>
<rect x="11" y="416" width="1" height="20" fill="#000"/>
<rect x="9" y="419" width="5" height="1" fill="#000"/>
<rect x="19" y="419" width="1" height="61" fill="#000"/>
<rect x="17" y="423" width="5" height="23" fill="#000"/>
<rect x="27" y="434" width="1" height="135" fill="#000"/>
<rect x="25" y="447" width="5" height="85" fill="#000"/>
<rect x="35" y="446" width="1" height="90" fill="#000"/>
<rect x="33" y="447" width="5" height="84" fill="#000"/>
<rect x="34" y="448" width="3" height="82" fill="#fff"/>
<rect x="43" y="438" width="1" height="56" fill="#000"/>
<rect x="41" y="446" width="5" height="1" fill="#000"/>
<rect x="51" y="430" width="1" height="22" fill="#000"/>
<rect x="49" y="436" width="5" height="10" fill="#000"/>
<rect x="50" y="437" width="3" height="8" fill="#fff"/>
<rect x="59" y="406" width="1" height="26" fill="#000"/>
<rect x="57" y="418" width="5" height="3" fill="#000"/>
<rect x="58" y="419" width="3" height="1" fill="#fff"/>
<rect x="67" y="365" width="1" height="73" fill="#000"/>
<rect x="65" y="375" width="5" height="48" fill="#000"/>
<rect x="66" y="376" width="3" height="46" fill="#fff"/>
<rect x="75" y="343" width="1" height="46" fill="#000"/>
<rect x="73" y="366" width="5" height="9" fill="#000"/>
<rect x="74" y="367" width="3" height="7" fill="#fff"/>
<rect x="83" y="328" width="1" height="51" fill="#000"/>
<rect x="81" y="329" width="5" height="37" fill="#000"/>
<rect x="82" y="330" width="3" height="35" fill="#fff"/>
<rect x="91" y="305" width="1" height="30" fill="#000"/>
<rect x="89" y="305" width="5" height="24" fill="#000"/>
<rect x="90" y="306" width="3" height="22" fill="#fff"/>
<rect x="99" y="301" width="1" height="15" fill="#000"/>
<rect x="97" y="304" width="5" height="3" fill="#000"/>
<rect x="107" y="298" width="1" height="22" fill="#000"/>
<rect x="105" y="301" width="5" height="11" fill="#000"/>
<rect x="106" y="302" width="3" height="9" fill="#fff"/>
<rect x="115" y="299" width="1" height="161" fill="#000"/>
<rect x="113" y="303" width="5" height="144" fill="#000"/>
<rect x="123" y="403" width="1" height="51" fill="#000"/>
<rect x="121" y="437" width="5" height="9" fill="#000"/>
<rect x="122" y="438" width="3" height="7" fill="#fff"/>
<rect x="131" y="421" width="1" height="37" fill="#000"/>
<rect x="129" y="437" width="5" height="2" fill="#000"/>
<rect x="139" y="433" width="1" height="20" fill="#000"/>
<rect x="137" y="434" width="5" height="3" fill="#000"/>
<rect x="138" y="435" width="3" height="1" fill="#fff"/>
<rect x="147" y="417" width="1" height="20" fill="#000"/>
<rect x="145" y="421" width="5" height="13" fill="#000"/>
<rect x="146" y="422" width="3" height="11" fill="#fff"/>
<rect x="155" y="381" width="1" height="39" fill="#000"/>
<rect x="153" y="384" width="5" height="30" fill="#000"/>
<rect x="154" y="385" width="3" height="28" fill="#fff"/>
<rect x="163" y="267" width="1" height="110" fill="#000"/>
<rect x="161" y="276" width="5" height="101" fill="#000"/>
<rect x="162" y="277" width="3" height="99" fill="#fff"/>
<rect x="171" y="267" width="1" height="40" fill="#000"/>
<rect x="169" y="277" width="5" height="21" fill="#000"/>
<rect x="179" y="291" width="1" height="42" fill="#000"/>
<rect x="177" y="298" width="5" height="10" fill="#000"/>
<rect x="187" y="303" width="1" height="38" fill="#000"/>
<rect x="185" y="307" width="5" height="30" fill="#000"/>
<rect x="195" y="325" width="1" height="41" fill="#000"/>
<rect x="193" y="337" width="5" height="28" fill="#000"/>
<rect x="203" y="346" width="1" height="49" fill="#000"/>
<rect x="201" y="348" width="5" height="44" fill="#000"/>
<rect x="211" y="327" width="1" height="85" fill="#000"/>
<rect x="209" y="376" width="5" height="12" fill="#000"/>
<rect x="210" y="377" width="3" height="10" fill="#fff"/>
<rect x="219" y="364" width="1" height="59" fill="#000"/>
<rect x="217" y="375" width="5" height="17" fill="#000"/>
<rect x="227" y="389" width="1" height="77" fill="#000"/>
<rect x="225" y="393" width="5" height="52" fill="#000"/>
<rect x="235" y="370" width="1" height="79" fill="#000"/>
<rect x="233" y="407" width="5" height="38" fill="#000"/>
<rect x="234" y="408" width="3" height="36" fill="#fff"/>
<rect x="243" y="382" width="1" height="41" fill="#000"/>
<rect x="241" y="385" width="5" height="21" fill="#000"/>
<rect x="242" y="386" width="3" height="19" fill="#fff"/>
<rect x="251" y="396" width="1" height="21" fill="#000"/>
<rect x="249" y="398" width="5" height="5" fill="#000"/>
<rect x="259" y="337" width="1" height="87" fill="#000"/>
<rect x="257" y="367" width="5" height="37" fill="#000"/>
<rect x="258" y="368" width="3" height="35" fill="#fff"/>
<rect x="267" y="336" width="1" height="69" fill="#000"/>
<rect x="265" y="367" width="5" height="17" fill="#000"/>
<rect x="275" y="325" width="1" height="62" fill="#000"/>
<rect x="273" y="331" width="5" height="55" fill="#000"/>
<rect x="274" y="332" width="3" height="53" fill="#fff"/>
<rect x="283" y="304" width="1" height="37" fill="#000"/>
<rect x="281" y="328" width="5" height="3" fill="#000"/>
<rect x="282" y="329" width="3" height="1" fill="#fff"/>
<rect x="291" y="315" width="1" height="19" fill="#000"/>
<rect x="289" y="326" width="5" height="3" fill="#000"/>
<rect x="290" y="327" width="3" height="1" fill="#fff"/>
<rect x="299" y="296" width="1" height="30" fill="#000"/>
<rect x="297" y="311" width="5" height="14" fill="#000"/>
<rect x="298" y="312" width="3" height="12" fill="#fff"/>
<rect x="307" y="284" width="1" height="51" fill="#000"/>
<rect x="305" y="310" width="5" height="10" fill="#000"/>
<rect x="315" y="288" width="1" height="37" fill="#000"/>
<rect x="313" y="297" width="5" height="25" fill="#000"/>
<rect x="314" y="298" width="3" height="23" fill="#fff"/>
<rect x="323" y="269" width="1" height="32" fill="#000"/>
<rect x="321" y="294" width="5" height="2" fill="#000"/>
<rect x="331" y="281" width="1" height="34" fill="#000"/>
<rect x="329" y="282" width="5" height="12" fill="#000"/>
<rect x="330" y="283" width="3" height="10" fill="#fff"/>
<rect x="339" y="278" width="1" height="17" fill="#000"/>
<rect x="337" y="283" width="5" height="4" fill="#000"/>
<rect x="347" y="290" width="1" height="37" fill="#000"/>
<rect x="345" y="296" width="5" height="27" fill="#000"/>
<rect x="355" y="243" width="1" height="86" fill="#000"/>
<rect x="353" y="277" width="5" height="52" fill="#000"/>
<rect x="354" y="278" width="3" height="50" fill="#fff"/>
<rect x="363" y="275" width="1" height="28" fill="#000"/>
<rect x="361" y="276" width="5" height="18" fill="#000"/>
<rect x="371" y="261" width="1" height="36" fill="#000"/>
<rect x="369" y="267" width="5" height="28" fill="#000"/>
<rect x="370" y="268" width="3" height="26" fill="#fff"/>
<rect x="379" y="256" width="1" height="20" fill="#000"/>
<rect x="377" y="258" width="5" height="7" fill="#000"/>
<rect x="378" y="259" width="3" height="5" fill="#fff"/>
<rect x="387" y="256" width="1" height="13" fill="#000"/>
<rect x="385" y="256" width="5" height="7" fill="#000"/>
<rect x="395" y="236" width="1" height="25" fill="#000"/>
<rect x="393" y="250" width="5" height="11" fill="#000"/>
<rect x="394" y="251" width="3" height="9" fill="#fff"/>
<rect x="403" y="246" width="1" height="32" fill="#000"/>
<rect x="401" y="255" width="5" height="1" fill="#000"/>
<rect x="411" y="239" width="1" height="28" fill="#000"/>
<rect x="409" y="245" width="5" height="12" fill="#000"/>
<rect x="410" y="246" width="3" height="10" fill="#fff"/>
<rect x="419" y="238" width="1" height="26" fill="#000"/>
<rect x="417" y="245" width="5" height="14" fill="#000"/>
<rect x="427" y="258" width="1" height="37" fill="#000"/>
<rect x="425" y="259" width="5" height="27" fill="#000"/>
<rect x="435" y="284" width="1" height="13" fill="#000"/>
<rect x="433" y="285" width="5" height="1" fill="#000"/>
<rect x="443" y="276" width="1" height="15" fill="#000"/>
<rect x="441" y="281" width="5" height="4" fill="#000"/>
<rect x="451" y="215" width="1" height="74" fill="#000"/>
<rect x="449" y="228" width="5" height="57" fill="#000"/>
<rect x="450" y="229" width="3" height="55" fill="#fff"/>
<rect x="459" y="223" width="1" height="28" fill="#000"/>
<rect x="457" y="229" width="5" height="12" fill="#000"/>
<rect x="467" y="233" width="1" height="23" fill="#000"/>
<rect x="465" y="242" width="5" height="2" fill="#000"/>
<rect x="475" y="234" width="1" height="12" fill="#000"/>
<rect x="473" y="236" width="5" height="8" fill="#000"/>
<rect x="474" y="237" width="3" height="6" fill="#fff"/>
<rect x="483" y="233" width="1" height="11" fill="#000"/>
<rect x="481" y="237" width="5" height="2" fill="#000"/>
<rect x="491" y="244" width="1" height="11" fill="#000"/>
<rect x="489" y="245" width="5" height="5" fill="#000"/>
<rect x="499" y="244" width="1" height="53" fill="#000"/>
<rect x="497" y="254" width="5" height="4" fill="#000"/>
<rect x="507" y="244" width="1" height="30" fill="#000"/>
<rect x="505" y="248" width="5" height="8" fill="#000"/>
<rect x="506" y="249" width="3" height="6" fill="#fff"/>
<rect x="515" y="190" width="1" height="58" fill="#000"/>
<rect x="513" y="199" width="5" height="49" fill="#000"/>
<rect x="514" y="200" width="3" height="47" fill="#fff"/>
<rect x="523" y="190" width="1" height="19" fill="#000"/>
<rect x="521" y="195" width="5" height="4" fill="#000"/>
<rect x="522" y="196" width="3" height="2" fill="#fff"/>
<rect x="531" y="176" width="1" height="29" fill="#000"/>
<rect x="529" y="176" width="5" height="20" fill="#000"/>
<rect x="530" y="177" width="3" height="18" fill="#fff"/>
<rect x="539" y="157" width="1" height="19" fill="#000"/>
<rect x="537" y="163" width="5" height="13" fill="#000"/>
<rect x="538" y="164" width="3" height="11" fill="#fff"/>
<rect x="547" y="109" width="1" height="67" fill="#000"/>
<rect x="545" y="113" width="5" height="50" fill="#000"/>
<rect x="546" y="114" width="3" height="48" fill="#fff"/>
<rect x="555" y="112" width="1" height="35" fill="#000"/>
<rect x="553" y="113" width="5" height="21" fill="#000"/>
<rect x="563" y="123" width="1" height="17" fill="#000"/>
<rect x="561" y="128" width="5" height="5" fill="#000"/>
<rect x="562" y="129" width="3" height="3" fill="#fff"/>
<rect x="571" y="126" width="1" height="16" fill="#000"/>
<rect x="569" y="128" width="5" height="9" fill="#000"/>
<rect x="579" y="134" width="1" height="16" fill="#000"/>
<rect x="577" y="135" width="5" height="15" fill="#000"/>
<rect x="587" y="129" width="1" height="26" fill="#000"/>
<rect x="585" y="142" width="5" height="11" fill="#000"/>
<rect x="595" y="119" width="1" height="73" fill="#000"/>
<rect x="593" y="149" width="5" height="38" fill="#000"/>
<rect x="603" y="145" width="1" height="55" fill="#000"/>
<rect x="601" y="156" width="5" height="31" fill="#000"/>
<rect x="602" y="157" width="3" height="29" fill="#fff"/>
<rect x="611" y="153" width="1" height="18" fill="#000"/>
<rect x="609" y="155" width="5" height="16" fill="#000"/>
<rect x="619" y="166" width="1" height="18" fill="#000"/>
<rect x="617" y="168" width="5" height="3" fill="#000"/>
<rect x="618" y="169" width="3" height="1" fill="#fff"/>
<rect x="627" y="165" width="1" height="5" fill="#000"/>
<rect x="625" y="168" width="5" height="2" fill="#000"/>
<rect x="635" y="142" width="1" height="23" fill="#000"/>
<rect x="633" y="143" width="5" height="18" fill="#000"/>
<rect x="634" y="144" width="3" height="16" fill="#fff"/>
<rect x="643" y="133" width="1" height="109" fill="#000"/>
<rect x="641" y="149" width="5" height="64" fill="#000"/>
<rect x="651" y="168" width="1" height="48" fill="#000"/>
<rect x="649" y="176" width="5" height="35" fill="#000"/>
<rect x="650" y="177" width="3" height="33" fill="#fff"/>
<rect x="659" y="159" width="1" height="50" fill="#000"/>
<rect x="657" y="175" width="5" height="29" fill="#000"/>
<rect x="667" y="190" width="1" height="25" fill="#000"/>
<rect x="665" y="195" width="5" height="8" fill="#000"/>
<rect x="666" y="196" width="3" height="6" fill="#fff"/>
<rect x="675" y="190" width="1" height="26" fill="#000"/>
<rect x="673" y="193" width="5" height="18" fill="#000"/>
<rect x="683" y="214" width="1" height="20" fill="#000"/>
<rect x="681" y="216" width="5" height="3" fill="#000"/>
<rect x="682" y="217" width="3" height="1" fill="#fff"/>
<rect x="691" y="149" width="1" height="103" fill="#000"/>
<rect x="689" y="160" width="5" height="58" fill="#000"/>
<rect x="690" y="161" width="3" height="56" fill="#fff"/>
<rect x="699" y="158" width="1" height="33" fill="#000"/>
<rect x="697" y="159" width="5" height="15" fill="#000"/>
<rect x="707" y="162" width="1" height="20" fill="#000"/>
<rect x="705" y="164" width="5" height="8" fill="#000"/>
<rect x="706" y="165" width="3" height="6" fill="#fff"/>
<rect x="715" y="162" width="1" height="27" fill="#000"/>
<rect x="713" y="164" width="5" height="21" fill="#000"/>
<rect x="723" y="176" width="1" height="14" fill="#000"/>
<rect x="721" y="185" width="5" height="1" fill="#000"/>
<rect x="731" y="172" width="1" height="17" fill="#000"/>
<rect x="729" y="179" width="5" height="10" fill="#000"/>
<rect x="730" y="180" width="3" height="8" fill="#fff"/>
<rect x="739" y="118" width="1" height="67" fill="#000"/>
<rect x="737" y="137" width="5" height="41" fill="#000"/>
<rect x="738" y="138" width="3" height="39" fill="#fff"/>
<rect x="747" y="132" width="1" height="43" fill="#000"/>
<rect x="745" y="136" width="5" height="37" fill="#000"/>
<rect x="755" y="157" width="1" height="34" fill="#000"/>
<rect x="753" y="159" width="5" height="13" fill="#000"/>
<rect x="754" y="160" width="3" height="11" fill="#fff"/>
<rect x="763" y="144" width="1" height="19" fill="#000"/>
<rect x="761" y="158" width="5" height="2" fill="#000"/>
<rect x="771" y="152" width="1" height="11" fill="#000"/>
<rect x="769" y="158" width="5" height="3" fill="#000"/>
<rect x="770" y="159" width="3" height="1" fill="#fff"/>
<rect x="779" y="160" width="1" height="25" fill="#000"/>
<rect x="777" y="161" width="5" height="18" fill="#000"/>
<rect x="787" y="154" width="1" height="53" fill="#000"/>
<rect x="785" y="167" width="5" height="9" fill="#000"/>
<rect x="786" y="168" width="3" height="7" fill="#fff"/>
<rect x="795" y="155" width="1" height="23" fill="#000"/>
<rect x="793" y="163" width="5" height="5" fill="#000"/>
<rect x="794" y="164" width="3" height="3" fill="#fff"/>
<rect x="803" y="136" width="1" height="30" fill="#000"/>
<rect x="801" y="143" width="5" height="22" fill="#000"/>
<rect x="802" y="144" width="3" height="20" fill="#fff"/>
<rect x="811" y="118" width="1" height="27" fill="#000"/>
<rect x="809" y="119" width="5" height="25" fill="#000"/>
<rect x="810" y="120" width="3" height="23" fill="#fff"/>
<rect x="819" y="118" width="1" height="12" fill="#000"/>
<rect x="817" y="118" width="5" height="8" fill="#000"/>
<rect x="827" y="92" width="1" height="15" fill="#000"/>
<rect x="825" y="99" width="5" height="8" fill="#000"/>
<rect x="826" y="100" width="3" height="6" fill="#fff"/>
<rect x="835" y="93" width="1" height="71" fill="#000"/>
<rect x="833" y="103" width="5" height="38" fill="#000"/>
<rect x="843" y="136" width="1" height="29" fill="#000"/>
<rect x="841" y="143" width="5" height="1" fill="#000"/>
<rect x="851" y="136" width="1" height="30" fill="#000"/>
<rect x="849" y="143" width="5" height="15" fill="#000"/>
<rect x="859" y="117" width="1" height="41" fill="#000"/>
<rect x="857" y="127" width="5" height="29" fill="#000"/>
<rect x="858" y="128" width="3" height="27" fill="#fff"/>
<rect x="867" y="118" width="1" height="10" fill="#000"/>
<rect x="865" y="122" width="5" height="6" fill="#000"/>
<rect x="866" y="123" width="3" height="4" fill="#fff"/>
<rect x="875" y="118" width="1" height="17" fill="#000"/>
<rect x="873" y="120" width="5" height="11" fill="#000"/>
<rect x="883" y="107" width="1" height="58" fill="#000"/>
<rect x="881" y="132" width="5" height="18" fill="#000"/>
<rect x="891" y="135" width="1" height="18" fill="#000"/>
<rect x="889" y="143" width="5" height="8" fill="#000"/>
<rect x="890" y="144" width="3" height="6" fill="#fff"/>
<rect x="899" y="135" width="1" height="31" fill="#000"/>
<rect x="897" y="144" width="5" height="4" fill="#000"/>
<rect x="907" y="144" width="1" height="31" fill="#000"/>
<rect x="905" y="146" width="5" height="10" fill="#000"/>
<rect x="915" y="151" width="1" height="19" fill="#000"/>
<rect x="913" y="154" width="5" height="16" fill="#000"/>
<rect x="923" y="160" width="1" height="13" fill="#000"/>
<rect x="921" y="170" width="5" height="3" fill="#000"/>
<rect x="922" y="171" width="3" height="1" fill="#fff"/>
<rect x="931" y="164" width="1" height="37" fill="#000"/>
<rect x="929" y="175" width="5" height="15" fill="#000"/>
<rect x="939" y="186" width="1" height="21" fill="#000"/>
<rect x="937" y="190" width="5" height="15" fill="#000"/>
<rect x="947" y="184" width="1" height="32" fill="#000"/>
<rect x="945" y="185" width="5" height="21" fill="#000"/>
<rect x="946" y="186" width="3" height="19" fill="#fff"/>
<rect x="955" y="178" width="1" height="15" fill="#000"/>
<rect x="953" y="183" width="5" height="3" fill="#000"/>
<rect x="954" y="184" width="3" height="1" fill="#fff"/>
<rect x="963" y="182" width="1" height="23" fill="#000"/>
<rect x="961" y="182" width="5" height="18" fill="#000"/>
<rect x="971" y="195" width="1" height="16" fill="#000"/>
<rect x="969" y="195" width="5" height="10" fill="#000"/>
<rect x="979" y="159" width="1" height="50" fill="#000"/>
<rect x="977" y="170" width="5" height="39" fill="#000"/>
<rect x="978" y="171" width="3" height="37" fill="#fff"/>
<rect x="987" y="167" width="1" height="24" fill="#000"/>
<rect x="985" y="169" width="5" height="6" fill="#000"/>
<rect x="995" y="131" width="1" height="57" fill="#000"/>
<rect x="993" y="162" width="5" height="11" fill="#000"/>
<rect x="994" y="163" width="3" height="9" fill="#fff"/>
<rect x="1003" y="148" width="1" height="17" fill="#000"/>
<rect x="1001" y="152" width="5" height="12" fill="#000"/>
<rect x="1002" y="153" width="3" height="10" fill="#fff"/>
<rect x="1011" y="149" width="1" height="25" fill="#000"/>
<rect x="1009" y="150" width="5" height="24" fill="#000"/>
<rect x="1019" y="151" width="1" height="22" fill="#000"/>
<rect x="1017" y="162" width="5" height="4" fill="#000"/>
<rect x="1018" y="163" width="3" height="2" fill="#fff"/>
<rect x="1027" y="144" width="1" height="56" fill="#000"/>
<rect x="1025" y="155" width="5" height="18" fill="#000"/>
<rect x="1035" y="160" width="1" height="23" fill="#000"/>
<rect x="1033" y="160" width="5" height="11" fill="#000"/>
<rect x="1034" y="161" width="3" height="9" fill="#fff"/>
<rect x="1043" y="153" width="1" height="12" fill="#000"/>
<rect x="1041" y="158" width="5" height="2" fill="#000"/>
<rect x="1051" y="159" width="1" height="13" fill="#000"/>
<rect x="1049" y="160" width="5" height="6" fill="#000"/>
<rect x="1059" y="149" width="1" height="17" fill="#000"/>
<rect x="1057" y="149" width="5" height="16" fill="#000"/>
<rect x="1058" y="150" width="3" height="14" fill="#fff"/>
<rect x="1067" y="127" width="1" height="14" fill="#000"/>
<rect x="1065" y="129" width="5" height="7" fill="#000"/>
<rect x="1066" y="130" width="3" height="5" fill="#fff"/>
<rect x="1075" y="114" width="1" height="45" fill="#000"/>
<rect x="1073" y="129" width="5" height="10" fill="#000"/>
<rect x="1083" y="114" width="1" height="26" fill="#000"/>
<rect x="1081" y="126" width="5" height="13" fill="#000"/>
<rect x="1082" y="127" width="3" height="11" fill="#fff"/>
<rect x="1091" y="119" width="1" height="15" fill="#000"/>
<rect x="1089" y="121" width="5" height="4" fill="#000"/>
<rect x="1090" y="122" width="3" height="2" fill="#fff"/>
<rect x="1099" y="113" width="1" height="15" fill="#000"/>
<rect x="1097" y="119" width="5" height="3" fill="#000"/>
<rect x="1107" y="94" width="1" height="29" fill="#000"/>
<rect x="1105" y="102" width="5" height="21" fill="#000"/>
<rect x="1106" y="103" width="3" height="19" fill="#fff"/>
<rect x="1115" y="85" width="1" height="17" fill="#000"/>
<rect x="1113" y="92" width="5" height="10" fill="#000"/>
<rect x="1123" y="55" width="1" height="54" fill="#000"/>
<rect x="1121" y="62" width="5" height="40" fill="#000"/>
<rect x="1122" y="63" width="3" height="38" fill="#fff"/>
<rect x="1131" y="56" width="1" height="21" fill="#000"/>
<rect x="1129" y="63" width="5" height="10" fill="#000"/>
<rect x="1139" y="68" width="1" height="17" fill="#000"/>
<rect x="1137" y="71" width="5" height="13" fill="#000"/>
<rect x="1147" y="76" width="1" height="13" fill="#000"/>
<rect x="1145" y="76" width="5" height="9" fill="#000"/>
<rect x="1146" y="77" width="3" height="7" fill="#fff"/>
<rect x="1155" y="77" width="1" height="14" fill="#000"/>
<rect x="1153" y="77" width="5" height="9" fill="#000"/>
<rect x="1163" y="85" width="1" height="12" fill="#000"/>
<rect x="1161" y="91" width="5" height="3" fill="#000"/>
<rect x="1171" y="66" width="1" height="33" fill="#000"/>
<rect x="1169" y="93" width="5" height="3" fill="#000"/>
<rect x="1179" y="84" width="1" height="23" fill="#000"/>
<rect x="1177" y="91" width="5" height="3" fill="#000"/>
<rect x="1178" y="92" width="3" height="1" fill="#fff"/>
<rect x="1187" y="90" width="1" height="10" fill="#000"/>
<rect x="1185" y="93" width="5" height="1" fill="#000"/>
<rect x="1195" y="88" width="1" height="40" fill="#000"/>
<rect x="1193" y="91" width="5" height="19" fill="#000"/>
<rect x="1203" y="67" width="1" height="46" fill="#000"/>
<rect x="1201" y="93" width="5" height="16" fill="#000"/>
<rect x="1202" y="94" width="3" height="14" fill="#fff"/>
<rect x="1211" y="108" width="1" height="26" fill="#000"/>
<rect x="1209" y="110" width="5" height="22" fill="#000"/>
<rect x="1219" y="121" width="1" height="73" fill="#000"/>
<rect x="1217" y="130" width="5" height="44" fill="#000"/>
<rect x="1227" y="139" width="1" height="37" fill="#000"/>
<rect x="1225" y="144" width="5" height="31" fill="#000"/>
<rect x="1226" y="145" width="3" height="29" fill="#fff"/>
<rect x="1235" y="118" width="1" height="30" fill="#000"/>
<rect x="1233" y="138" width="5" height="6" fill="#000"/>
<rect x="1234" y="139" width="3" height="4" fill="#fff"/>
<rect x="1243" y="131" width="1" height="38" fill="#000"/>
<rect x="1241" y="137" width="5" height="2" fill="#000"/>
<rect x="1251" y="117" width="1" height="23" fill="#000"/>
<rect x="1249" y="122" width="5" height="17" fill="#000"/>
<rect x="1250" y="123" width="3" height="15" fill="#fff"/>
<rect x="1259" y="109" width="1" height="25" fill="#000"/>
<rect x="1257" y="114" width="5" height="13" fill="#000"/>
<rect x="1267" y="124" width="1" height="33" fill="#000"/>
<rect x="1265" y="125" width="5" height="32" fill="#000"/>
<rect x="1275" y="154" width="1" height="49" fill="#000"/>
<rect x="1273" y="157" width="5" height="43" fill="#000"/>
<rect x="1283" y="195" width="1" height="53" fill="#000"/>
<rect x="1281" y="200" width="5" height="46" fill="#000"/>
<rect x="1291" y="229" width="1" height="30" fill="#000"/>
<rect x="1289" y="246" width="5" height="12" fill="#000"/>
<rect x="1299" y="246" width="1" height="24" fill="#000"/>
<rect x="1297" y="258" width="5" height="7" fill="#000"/>
<rect x="1307" y="268" width="1" height="29" fill="#000"/>
<rect x="1305" y="269" width="5" height="18" fill="#000"/>
<rect x="1315" y="291" width="1" height="148" fill="#000"/>
<rect x="1313" y="295" width="5" height="102" fill="#000"/>
<rect x="1323" y="288" width="1" height="129" fill="#000"/>
<rect x="1321" y="292" width="5" height="105" fill="#000"/>
<rect x="1322" y="293" width="3" height="103" fill="#fff"/>
<rect x="1331" y="268" width="1" height="47" fill="#000"/>
<rect x="1329" y="270" width="5" height="22" fill="#000"/>
<rect x="1330" y="271" width="3" height="20" fill="#fff"/>
<rect x="1339" y="225" width="1" height="54" fill="#000"/>
<rect x="1337" y="233" width="5" height="38" fill="#000"/>
<rect x="1338" y="234" width="3" height="36" fill="#fff"/>
<rect x="1347" y="216" width="1" height="20" fill="#000"/>
<rect x="1345" y="218" width="5" height="15" fill="#000"/>
<rect x="1346" y="219" width="3" height="13" fill="#fff"/>
<rect x="1355" y="210" width="1" height="39" fill="#000"/>
<rect x="1353" y="213" width="5" height="22" fill="#000"/>
<rect x="1363" y="192" width="1" height="74" fill="#000"/>
<rect x="1361" y="206" width="5" height="24" fill="#000"/>
<rect x="1362" y="207" width="3" height="22" fill="#fff"/>
<rect x="1371" y="186" width="1" height="58" fill="#000"/>
<rect x="1369" y="206" width="5" height="19" fill="#000"/>
<rect x="1379" y="203" width="1" height="28" fill="#000"/>
<rect x="1377" y="211" width="5" height="14" fill="#000"/>
<rect x="1378" y="212" width="3" height="12" fill="#fff"/>
<rect x="1387" y="195" width="1" height="20" fill="#000"/>
<rect x="1385" y="200" width="5" height="11" fill="#000"/>
<rect x="1386" y="201" width="3" height="9" fill="#fff"/>
<rect x="1395" y="184" width="1" height="19" fill="#000"/>
<rect x="1393" y="194" width="5" height="7" fill="#000"/>
<rect x="1394" y="195" width="3" height="5" fill="#fff"/>
</g>
<g shape-rendering="crispEdges">
<rect x="1300" y="202" width="154" height="8" fill="#00ee00"/>
</g>
<rect x="1052.5" y="46.5" width="61" height="18" fill="#fff" stroke="#ff0000" stroke-width="1" shape-rendering="crispEdges"/>
<text x="1054.6" y="62" font-size="16" fill="#ff0000" textLength="57.4" lengthAdjust="spacingAndGlyphs">29434.6</text>
<polyline points="1113,55.5 1123.5,55.5" fill="none" stroke="#ff0000" stroke-width="1" shape-rendering="crispEdges"/>
<rect x="620.5" y="242.5" width="61" height="18" fill="#fff" stroke="#ff0000" stroke-width="1" shape-rendering="crispEdges"/>
<text x="622.6" y="258" font-size="16" fill="#ff0000" textLength="57.4" lengthAdjust="spacingAndGlyphs">28549.0</text>
<polyline points="681,251.5 691.5,251.5" fill="none" stroke="#ff0000" stroke-width="1" shape-rendering="crispEdges"/>
<rect x="1020.5" y="195.5" width="61" height="18" fill="#fff" stroke="#ff0000" stroke-width="1" shape-rendering="crispEdges"/>
<text x="1022.6" y="211" font-size="16" fill="#ff0000" textLength="57.4" lengthAdjust="spacingAndGlyphs">28760.5</text>
<polyline points="1081,204.5 1092,204.5" fill="none" stroke="#ff0000" stroke-width="1" shape-rendering="crispEdges"/>
<rect x="1082.5" y="202.5" width="3" height="4" fill="#fff" stroke="#ff0000" shape-rendering="crispEdges"/>
<rect x="1148.5" y="185.5" width="61" height="18" fill="#fff" stroke="#ff0000" stroke-width="1" shape-rendering="crispEdges"/>
<text x="1150.6" y="201" font-size="16" fill="#ff0000" textLength="57.4" lengthAdjust="spacingAndGlyphs">28805.5</text>
<polyline points="1209,194.5 1219.5,194.5" fill="none" stroke="#ff0000" stroke-width="1" shape-rendering="crispEdges"/>
<rect x="1244.5" y="430.5" width="61" height="18" fill="#fff" stroke="#ff0000" stroke-width="1" shape-rendering="crispEdges"/>
<text x="1246.6" y="446" font-size="16" fill="#ff0000" textLength="57.4" lengthAdjust="spacingAndGlyphs">27703.0</text>
<polyline points="1305,439.5 1315.5,439.5" fill="none" stroke="#ff0000" stroke-width="1" shape-rendering="crispEdges"/>
<rect x="1027" y="196" width="1" height="4" fill="#000" shape-rendering="crispEdges"/>
<line x1="1266.4" y1="174.7" x2="1317.8" y2="429.2" stroke="#ff0000" stroke-width="3.2" stroke-linecap="butt"/>
<polygon points="1319.6,438.0 1312.8,428.2 1322.1,426.3" fill="#ff0000"/>
<line x1="1319.6" y1="437.0" x2="1385.9" y2="200.0" stroke="#ff0000" stroke-width="3.2" stroke-linecap="butt"/>
<polygon points="1388.3,191.3 1389.9,203.2 1380.8,200.6" fill="#ff0000"/>
<line x1="1327.1" y1="704.8" x2="1403.5" y2="654.9" stroke="#ff0000" stroke-width="3.2" stroke-linecap="butt"/>
<polygon points="1411.0,650.0 1404.4,660.0 1399.2,652.0" fill="#ff0000"/>
<text x="1469" y="205.2" font-size="19" fill="#40ff00" font-family='"Liberation Serif","Noto Serif CJK SC",serif' font-weight="200" letter-spacing="3.1">多空转折点</text>
<defs>
<clipPath id="mainclip"><rect x="0" y="29" width="1654" height="552"/></clipPath>
<linearGradient id="gSell" x1="0" y1="0" x2="0" y2="1"><stop offset="0" stop-color="#f55050"/><stop offset="1" stop-color="#d93030"/></linearGradient>
<linearGradient id="gBig" x1="0" y1="0" x2="0" y2="1"><stop offset="0" stop-color="#d83030"/><stop offset="1" stop-color="#b00000"/></linearGradient>
<linearGradient id="gBtn" x1="0" y1="0" x2="0" y2="1"><stop offset="0" stop-color="#f4f4f4"/><stop offset="0.5" stop-color="#e4e4e4"/><stop offset="0.5" stop-color="#d4d4d4"/><stop offset="1" stop-color="#dcdcdc"/></linearGradient>
<radialGradient id="gRed" cx="0.5" cy="0.3" r="0.8"><stop offset="0" stop-color="#ea5a38"/><stop offset="1" stop-color="#d42010"/></radialGradient>
</defs>
<g shape-rendering="crispEdges">
<rect x="0" y="48" width="217" height="57" fill="#c41818"/>
<rect x="0" y="48" width="50" height="24" fill="url(#gSell)"/>
<rect x="165" y="48" width="52" height="24" fill="url(#gSell)"/>
<rect x="0" y="72" width="107" height="33" fill="url(#gBig)"/>
<rect x="109" y="72" width="108" height="33" fill="url(#gBig)"/>
<rect x="107" y="72" width="2" height="33" fill="#fff"/>
<rect x="0" y="104" width="217" height="1" fill="#a80000"/>
<rect x="107" y="104" width="2" height="1" fill="#fff"/>
<rect x="2" y="71" width="44" height="1" fill="#f7a0a0"/>
<rect x="2" y="72" width="44" height="1" fill="#a01010"/>
<rect x="169" y="71" width="44" height="1" fill="#f7a0a0"/>
<rect x="169" y="72" width="44" height="1" fill="#a01010"/>
<rect x="50" y="48" width="115" height="24" fill="#fbfbfb"/>
<rect x="52" y="49" width="111" height="20" fill="#a9a9b4"/>
<rect x="53" y="50" width="19" height="18" fill="url(#gBtn)"/>
<rect x="73" y="50" width="69" height="18" fill="#fff"/>
<rect x="143" y="50" width="19" height="18" fill="url(#gBtn)"/>
<rect x="50" y="70" width="115" height="2" fill="#f4f4f4"/>
</g>
<polygon points="59.5,57 65.5,57 62.5,60.5" fill="#4a5ec8"/>
<polygon points="149.5,60 155.5,60 152.5,56.5" fill="#4a5ec8"/>
<text x="23.5" y="63.5" font-size="12" fill="#fff" text-anchor="middle" textLength="26" lengthAdjust="spacingAndGlyphs">SELL</text>
<text x="190.5" y="63.5" font-size="12" fill="#fff" text-anchor="middle" textLength="24" lengthAdjust="spacingAndGlyphs">BUY</text>
<text x="137.5" y="63" font-size="12" fill="#000" text-anchor="end" textLength="23" lengthAdjust="spacingAndGlyphs">1.00</text>
<text x="14" y="99.5" font-size="12" fill="#fff" font-weight="bold" textLength="34.5" lengthAdjust="spacingAndGlyphs">28808</text>
<text x="124" y="99.5" font-size="12" fill="#fff" font-weight="bold" textLength="34.5" lengthAdjust="spacingAndGlyphs">28831</text>
<text x="52.5" y="99.5" font-size="31" fill="#fff">.</text>
<text x="60" y="99.5" font-size="31" fill="#fff" textLength="15.5" lengthAdjust="spacingAndGlyphs">5</text>
<text x="163" y="99.5" font-size="31" fill="#fff">.</text>
<text x="170.8" y="99.5" font-size="31" fill="#fff" textLength="15.5" lengthAdjust="spacingAndGlyphs">5</text>
<polygon points="0,39.5 2.5,36 5.5,39.5" fill="#000"/>
<text x="10" y="39.8" font-size="9.5" fill="#000" textLength="196.8" lengthAdjust="spacingAndGlyphs" stroke="#000" stroke-width="0.18" xml:space="preserve">JPN225-.H4  28780.0 28852.5 28762.5 28810.0</text>
<path d="M46 29h1v5h-1zM47 34h1v8h-1zM48 42h1v5h-1z" fill="#24aa66" shape-rendering="crispEdges"/>
<polygon points="1398,29 1407,29 1402.5,34" fill="#b4b4b4"/>
<g shape-rendering="crispEdges">
<rect x="3" y="640" width="1" height="85" fill="#c0c0c0"/>
<rect x="11" y="640" width="1" height="90" fill="#c0c0c0"/>
<rect x="19" y="640" width="1" height="95" fill="#c0c0c0"/>
<rect x="27" y="640" width="1" height="105" fill="#c0c0c0"/>
<rect x="35" y="640" width="1" height="104" fill="#c0c0c0"/>
<rect x="43" y="640" width="1" height="102" fill="#c0c0c0"/>
<rect x="51" y="640" width="1" height="99" fill="#c0c0c0"/>
<rect x="59" y="640" width="1" height="93" fill="#c0c0c0"/>
<rect x="67" y="640" width="1" height="84" fill="#c0c0c0"/>
<rect x="75" y="640" width="1" height="75" fill="#c0c0c0"/>
<rect x="83" y="640" width="1" height="64" fill="#c0c0c0"/>
<rect x="91" y="640" width="1" height="52" fill="#c0c0c0"/>
<rect x="99" y="640" width="1" height="42" fill="#c0c0c0"/>
<rect x="107" y="640" width="1" height="34" fill="#c0c0c0"/>
<rect x="115" y="640" width="1" height="40" fill="#c0c0c0"/>
<rect x="123" y="640" width="1" height="43" fill="#c0c0c0"/>
<rect x="131" y="640" width="1" height="45" fill="#c0c0c0"/>
<rect x="139" y="640" width="1" height="46" fill="#c0c0c0"/>
<rect x="147" y="640" width="1" height="45" fill="#c0c0c0"/>
<rect x="155" y="640" width="1" height="41" fill="#c0c0c0"/>
<rect x="163" y="640" width="1" height="27" fill="#c0c0c0"/>
<rect x="171" y="640" width="1" height="18" fill="#c0c0c0"/>
<rect x="179" y="640" width="1" height="11" fill="#c0c0c0"/>
<rect x="187" y="640" width="1" height="8" fill="#c0c0c0"/>
<rect x="195" y="640" width="1" height="9" fill="#c0c0c0"/>
<rect x="203" y="640" width="1" height="11" fill="#c0c0c0"/>
<rect x="211" y="640" width="1" height="12" fill="#c0c0c0"/>
<rect x="219" y="640" width="1" height="14" fill="#c0c0c0"/>
<rect x="227" y="640" width="1" height="20" fill="#c0c0c0"/>
<rect x="235" y="640" width="1" height="21" fill="#c0c0c0"/>
<rect x="243" y="640" width="1" height="19" fill="#c0c0c0"/>
<rect x="251" y="640" width="1" height="19" fill="#c0c0c0"/>
<rect x="259" y="640" width="1" height="17" fill="#c0c0c0"/>
<rect x="267" y="640" width="1" height="15" fill="#c0c0c0"/>
<rect x="275" y="640" width="1" height="9" fill="#c0c0c0"/>
<rect x="283" y="640" width="1" height="4" fill="#c0c0c0"/>
<rect x="299" y="636" width="1" height="5" fill="#c0c0c0"/>
<rect x="307" y="633" width="1" height="8" fill="#c0c0c0"/>
<rect x="315" y="629" width="1" height="12" fill="#c0c0c0"/>
<rect x="323" y="626" width="1" height="15" fill="#c0c0c0"/>
<rect x="331" y="622" width="1" height="19" fill="#c0c0c0"/>
<rect x="339" y="620" width="1" height="21" fill="#c0c0c0"/>
<rect x="347" y="622" width="1" height="19" fill="#c0c0c0"/>
<rect x="355" y="620" width="1" height="21" fill="#c0c0c0"/>
<rect x="363" y="619" width="1" height="22" fill="#c0c0c0"/>
<rect x="371" y="617" width="1" height="24" fill="#c0c0c0"/>
<rect x="379" y="614" width="1" height="27" fill="#c0c0c0"/>
<rect x="387" y="613" width="1" height="28" fill="#c0c0c0"/>
<rect x="395" y="612" width="1" height="29" fill="#c0c0c0"/>
<rect x="403" y="611" width="1" height="30" fill="#c0c0c0"/>
<rect x="411" y="610" width="1" height="31" fill="#c0c0c0"/>
<rect x="419" y="611" width="1" height="30" fill="#c0c0c0"/>
<rect x="427" y="614" width="1" height="27" fill="#c0c0c0"/>
<rect x="435" y="617" width="1" height="24" fill="#c0c0c0"/>
<rect x="443" y="620" width="1" height="21" fill="#c0c0c0"/>
<rect x="451" y="617" width="1" height="24" fill="#c0c0c0"/>
<rect x="459" y="616" width="1" height="25" fill="#c0c0c0"/>
<rect x="467" y="616" width="1" height="25" fill="#c0c0c0"/>
<rect x="475" y="615" width="1" height="26" fill="#c0c0c0"/>
<rect x="483" y="615" width="1" height="26" fill="#c0c0c0"/>
<rect x="491" y="617" width="1" height="24" fill="#c0c0c0"/>
<rect x="499" y="619" width="1" height="22" fill="#c0c0c0"/>
<rect x="507" y="620" width="1" height="21" fill="#c0c0c0"/>
<rect x="515" y="617" width="1" height="24" fill="#c0c0c0"/>
<rect x="523" y="615" width="1" height="26" fill="#c0c0c0"/>
<rect x="531" y="610" width="1" height="31" fill="#c0c0c0"/>
<rect x="539" y="606" width="1" height="35" fill="#c0c0c0"/>
<rect x="547" y="599" width="1" height="42" fill="#c0c0c0"/>
<rect x="555" y="596" width="1" height="45" fill="#c0c0c0"/>
<rect x="563" y="594" width="1" height="47" fill="#c0c0c0"/>
<rect x="571" y="593" width="1" height="48" fill="#c0c0c0"/>
<rect x="579" y="594" width="1" height="47" fill="#c0c0c0"/>
<rect x="587" y="596" width="1" height="45" fill="#c0c0c0"/>
<rect x="595" y="601" width="1" height="40" fill="#c0c0c0"/>
<rect x="603" y="603" width="1" height="38" fill="#c0c0c0"/>
<rect x="611" y="606" width="1" height="35" fill="#c0c0c0"/>
<rect x="619" y="608" width="1" height="33" fill="#c0c0c0"/>
<rect x="627" y="611" width="1" height="30" fill="#c0c0c0"/>
<rect x="635" y="611" width="1" height="30" fill="#c0c0c0"/>
<rect x="643" y="617" width="1" height="24" fill="#c0c0c0"/>
<rect x="651" y="619" width="1" height="22" fill="#c0c0c0"/>
<rect x="659" y="623" width="1" height="18" fill="#c0c0c0"/>
<rect x="667" y="626" width="1" height="15" fill="#c0c0c0"/>
<rect x="675" y="630" width="1" height="11" fill="#c0c0c0"/>
<rect x="683" y="634" width="1" height="7" fill="#c0c0c0"/>
<rect x="691" y="632" width="1" height="9" fill="#c0c0c0"/>
<rect x="699" y="631" width="1" height="10" fill="#c0c0c0"/>
<rect x="707" y="630" width="1" height="11" fill="#c0c0c0"/>
<rect x="715" y="631" width="1" height="10" fill="#c0c0c0"/>
<rect x="723" y="632" width="1" height="9" fill="#c0c0c0"/>
<rect x="731" y="633" width="1" height="8" fill="#c0c0c0"/>
<rect x="739" y="630" width="1" height="11" fill="#c0c0c0"/>
<rect x="747" y="630" width="1" height="11" fill="#c0c0c0"/>
<rect x="755" y="629" width="1" height="12" fill="#c0c0c0"/>
<rect x="763" y="630" width="1" height="11" fill="#c0c0c0"/>
<rect x="771" y="629" width="1" height="12" fill="#c0c0c0"/>
<rect x="779" y="631" width="1" height="10" fill="#c0c0c0"/>
<rect x="787" y="631" width="1" height="10" fill="#c0c0c0"/>
<rect x="795" y="631" width="1" height="10" fill="#c0c0c0"/>
<rect x="803" y="630" width="1" height="11" fill="#c0c0c0"/>
<rect x="811" y="626" width="1" height="15" fill="#c0c0c0"/>
<rect x="819" y="625" width="1" height="16" fill="#c0c0c0"/>
<rect x="827" y="621" width="1" height="20" fill="#c0c0c0"/>
<rect x="835" y="622" width="1" height="19" fill="#c0c0c0"/>
<rect x="843" y="623" width="1" height="18" fill="#c0c0c0"/>
<rect x="851" y="625" width="1" height="16" fill="#c0c0c0"/>
<rect x="859" y="625" width="1" height="16" fill="#c0c0c0"/>
<rect x="867" y="624" width="1" height="17" fill="#c0c0c0"/>
<rect x="875" y="625" width="1" height="16" fill="#c0c0c0"/>
<rect x="883" y="627" width="1" height="14" fill="#c0c0c0"/>
<rect x="891" y="628" width="1" height="13" fill="#c0c0c0"/>
<rect x="899" y="630" width="1" height="11" fill="#c0c0c0"/>
<rect x="907" y="632" width="1" height="9" fill="#c0c0c0"/>
<rect x="915" y="635" width="1" height="6" fill="#c0c0c0"/>
<rect x="923" y="637" width="1" height="4" fill="#c0c0c0"/>
<rect x="939" y="640" width="1" height="4" fill="#c0c0c0"/>
<rect x="947" y="640" width="1" height="6" fill="#c0c0c0"/>
<rect x="955" y="640" width="1" height="7" fill="#c0c0c0"/>
<rect x="963" y="640" width="1" height="9" fill="#c0c0c0"/>
<rect x="971" y="640" width="1" height="11" fill="#c0c0c0"/>
<rect x="979" y="640" width="1" height="9" fill="#c0c0c0"/>
<rect x="987" y="640" width="1" height="8" fill="#c0c0c0"/>
<rect x="995" y="640" width="1" height="6" fill="#c0c0c0"/>
<rect x="1003" y="640" width="1" height="4" fill="#c0c0c0"/>
<rect x="1011" y="640" width="1" height="3" fill="#c0c0c0"/>
<rect x="1019" y="640" width="1" height="2" fill="#c0c0c0"/>
<rect x="1027" y="640" width="1" height="2" fill="#c0c0c0"/>
<rect x="1059" y="639" width="1" height="2" fill="#c0c0c0"/>
<rect x="1067" y="637" width="1" height="4" fill="#c0c0c0"/>
<rect x="1075" y="635" width="1" height="6" fill="#c0c0c0"/>
<rect x="1083" y="632" width="1" height="9" fill="#c0c0c0"/>
<rect x="1091" y="630" width="1" height="11" fill="#c0c0c0"/>
<rect x="1099" y="629" width="1" height="12" fill="#c0c0c0"/>
<rect x="1107" y="626" width="1" height="15" fill="#c0c0c0"/>
<rect x="1115" y="624" width="1" height="17" fill="#c0c0c0"/>
<rect x="1123" y="619" width="1" height="22" fill="#c0c0c0"/>
<rect x="1131" y="616" width="1" height="25" fill="#c0c0c0"/>
<rect x="1139" y="615" width="1" height="26" fill="#c0c0c0"/>
<rect x="1147" y="614" width="1" height="27" fill="#c0c0c0"/>
<rect x="1155" y="615" width="1" height="26" fill="#c0c0c0"/>
<rect x="1163" y="616" width="1" height="25" fill="#c0c0c0"/>
<rect x="1171" y="617" width="1" height="24" fill="#c0c0c0"/>
<rect x="1179" y="618" width="1" height="23" fill="#c0c0c0"/>
<rect x="1187" y="619" width="1" height="22" fill="#c0c0c0"/>
<rect x="1195" y="622" width="1" height="19" fill="#c0c0c0"/>
<rect x="1203" y="623" width="1" height="18" fill="#c0c0c0"/>
<rect x="1211" y="627" width="1" height="14" fill="#c0c0c0"/>
<rect x="1219" y="635" width="1" height="6" fill="#c0c0c0"/>
<rect x="1227" y="638" width="1" height="3" fill="#c0c0c0"/>
<rect x="1235" y="639" width="1" height="2" fill="#c0c0c0"/>
<rect x="1267" y="640" width="1" height="3" fill="#c0c0c0"/>
<rect x="1275" y="640" width="1" height="9" fill="#c0c0c0"/>
<rect x="1283" y="640" width="1" height="18" fill="#c0c0c0"/>
<rect x="1291" y="640" width="1" height="26" fill="#c0c0c0"/>
<rect x="1299" y="640" width="1" height="32" fill="#c0c0c0"/>
<rect x="1307" y="640" width="1" height="39" fill="#c0c0c0"/>
<rect x="1315" y="640" width="1" height="54" fill="#c0c0c0"/>
<rect x="1323" y="640" width="1" height="55" fill="#c0c0c0"/>
<rect x="1331" y="640" width="1" height="54" fill="#c0c0c0"/>
<rect x="1339" y="640" width="1" height="49" fill="#c0c0c0"/>
<rect x="1347" y="640" width="1" height="42" fill="#c0c0c0"/>
<rect x="1355" y="640" width="1" height="39" fill="#c0c0c0"/>
<rect x="1363" y="640" width="1" height="32" fill="#c0c0c0"/>
<rect x="1371" y="640" width="1" height="30" fill="#c0c0c0"/>
<rect x="1379" y="640" width="1" height="24" fill="#c0c0c0"/>
<rect x="1387" y="640" width="1" height="21" fill="#c0c0c0"/>
<rect x="1395" y="640" width="1" height="17" fill="#c0c0c0"/>
</g>
<path d="M608 597h1v1h-1zM612 597h3v1h-3zM594 598h3v1h-3zM600 598h3v1h-3zM606 598h2v1h-2zM618 598h3v1h-3zM590 599h1v1h-1zM588 600h2v1h-2zM624 600h3v1h-3zM584 601h1v1h-1zM630 601h2v1h-2zM582 602h2v1h-2zM632 602h1v1h-1zM636 602h2v1h-2zM638 603h1v1h-1zM576 604h3v1h-3zM571 605h2v1h-2zM642 605h3v1h-3zM570 606h1v1h-1zM648 606h1v1h-1zM564 607h3v1h-3zM649 607h2v1h-2zM560 608h1v1h-1zM654 608h1v1h-1zM558 609h2v1h-2zM655 609h2v1h-2zM554 610h1v1h-1zM660 610h1v1h-1zM552 611h2v1h-2zM661 611h2v1h-2zM432 612h3v1h-3zM438 612h1v1h-1zM546 612h3v1h-3zM420 613h3v1h-3zM426 613h3v1h-3zM439 613h2v1h-2zM444 613h3v1h-3zM450 613h3v1h-3zM456 613h3v1h-3zM462 613h2v1h-2zM542 613h1v1h-1zM666 613h3v1h-3zM414 614h3v1h-3zM464 614h1v1h-1zM468 614h3v1h-3zM474 614h3v1h-3zM536 614h1v1h-1zM540 614h2v1h-2zM408 615h3v1h-3zM480 615h2v1h-2zM528 615h3v1h-3zM534 615h2v1h-2zM672 615h3v1h-3zM402 616h3v1h-3zM482 616h1v1h-1zM486 616h3v1h-3zM492 616h3v1h-3zM516 616h3v1h-3zM522 616h3v1h-3zM396 617h3v1h-3zM498 617h3v1h-3zM504 617h3v1h-3zM510 617h3v1h-3zM678 617h1v1h-1zM1176 617h3v1h-3zM1182 617h3v1h-3zM1188 617h3v1h-3zM1194 617h3v1h-3zM1200 617h3v1h-3zM390 618h3v1h-3zM679 618h2v1h-2zM1170 618h3v1h-3zM1206 618h3v1h-3zM384 619h3v1h-3zM1160 619h1v1h-1zM1164 619h3v1h-3zM1212 619h2v1h-2zM378 620h3v1h-3zM684 620h2v1h-2zM1154 620h1v1h-1zM1158 620h2v1h-2zM1214 620h1v1h-1zM374 621h1v1h-1zM686 621h1v1h-1zM1152 621h2v1h-2zM1218 621h3v1h-3zM372 622h2v1h-2zM1224 622h1v1h-1zM366 623h3v1h-3zM690 623h3v1h-3zM876 623h3v1h-3zM882 623h3v1h-3zM1147 623h2v1h-2zM1225 623h2v1h-2zM696 624h3v1h-3zM870 624h3v1h-3zM888 624h3v1h-3zM1146 624h1v1h-1zM1230 624h2v1h-2zM361 625h2v1h-2zM865 625h2v1h-2zM894 625h3v1h-3zM1140 625h3v1h-3zM1232 625h1v1h-1zM360 626h1v1h-1zM702 626h3v1h-3zM708 626h1v1h-1zM840 626h3v1h-3zM846 626h3v1h-3zM852 626h3v1h-3zM858 626h3v1h-3zM864 626h1v1h-1zM900 626h3v1h-3zM1135 626h2v1h-2zM1236 626h2v1h-2zM355 627h2v1h-2zM709 627h2v1h-2zM824 627h1v1h-1zM828 627h3v1h-3zM834 627h3v1h-3zM906 627h3v1h-3zM912 627h3v1h-3zM918 627h2v1h-2zM1134 627h1v1h-1zM1238 627h1v1h-1zM354 628h1v1h-1zM816 628h3v1h-3zM822 628h2v1h-2zM920 628h1v1h-1zM924 628h2v1h-2zM1128 628h3v1h-3zM1242 628h3v1h-3zM350 629h1v1h-1zM714 629h3v1h-3zM720 629h3v1h-3zM768 629h3v1h-3zM774 629h3v1h-3zM780 629h3v1h-3zM786 629h3v1h-3zM792 629h3v1h-3zM798 629h3v1h-3zM804 629h3v1h-3zM810 629h3v1h-3zM926 629h1v1h-1zM1123 629h2v1h-2zM348 630h2v1h-2zM726 630h3v1h-3zM762 630h3v1h-3zM1122 630h1v1h-1zM1248 630h3v1h-3zM732 631h3v1h-3zM738 631h3v1h-3zM744 631h3v1h-3zM750 631h3v1h-3zM756 631h3v1h-3zM930 631h3v1h-3zM1117 631h2v1h-2zM342 632h3v1h-3zM936 632h3v1h-3zM1112 632h1v1h-1zM1116 632h1v1h-1zM1254 632h3v1h-3zM942 633h1v1h-1zM1106 633h1v1h-1zM1110 633h2v1h-2zM1260 633h1v1h-1zM338 634h1v1h-1zM943 634h2v1h-2zM1104 634h2v1h-2zM1261 634h2v1h-2zM337 635h1v1h-1zM948 635h1v1h-1zM1098 635h3v1h-3zM336 636h1v1h-1zM949 636h2v1h-2zM1094 636h1v1h-1zM1266 636h1v1h-1zM954 637h1v1h-1zM1092 637h2v1h-2zM1267 637h2v1h-2zM331 638h2v1h-2zM955 638h2v1h-2zM1086 638h3v1h-3zM1272 638h2v1h-2zM330 639h1v1h-1zM960 639h2v1h-2zM1274 639h1v1h-1zM325 640h2v1h-2zM962 640h1v1h-1zM1080 640h3v1h-3zM324 641h1v1h-1zM966 641h2v1h-2zM1064 641h1v1h-1zM1068 641h3v1h-3zM1074 641h3v1h-3zM1278 641h2v1h-2zM320 642h1v1h-1zM968 642h1v1h-1zM1057 642h2v1h-2zM1062 642h2v1h-2zM1280 642h1v1h-1zM318 643h2v1h-2zM972 643h2v1h-2zM1056 643h1v1h-1zM1284 643h1v1h-1zM974 644h1v1h-1zM1040 644h1v1h-1zM1044 644h3v1h-3zM1050 644h3v1h-3zM1285 644h2v1h-2zM313 645h2v1h-2zM978 645h3v1h-3zM1033 645h2v1h-2zM1038 645h2v1h-2zM1290 645h1v1h-1zM312 646h1v1h-1zM984 646h3v1h-3zM990 646h1v1h-1zM1026 646h3v1h-3zM1032 646h1v1h-1zM1291 646h2v1h-2zM991 647h2v1h-2zM996 647h3v1h-3zM1002 647h3v1h-3zM1008 647h3v1h-3zM1014 647h3v1h-3zM1020 647h3v1h-3zM306 648h3v1h-3zM1296 648h1v1h-1zM1297 649h2v1h-2zM302 650h1v1h-1zM300 651h2v1h-2zM1302 651h1v1h-1zM1303 652h2v1h-2zM294 653h3v1h-3zM289 654h2v1h-2zM1308 654h1v1h-1zM228 655h3v1h-3zM234 655h3v1h-3zM240 655h3v1h-3zM246 655h1v1h-1zM283 655h2v1h-2zM288 655h1v1h-1zM1309 655h1v1h-1zM247 656h2v1h-2zM252 656h3v1h-3zM282 656h1v1h-1zM1310 656h1v1h-1zM222 657h3v1h-3zM258 657h3v1h-3zM264 657h3v1h-3zM270 657h3v1h-3zM276 657h3v1h-3zM216 659h3v1h-3zM1314 659h2v1h-2zM1316 660h1v1h-1zM210 661h3v1h-3zM205 663h2v1h-2zM1320 663h1v1h-1zM204 664h1v1h-1zM1321 664h1v1h-1zM1322 665h1v1h-1zM199 666h2v1h-2zM198 667h1v1h-1zM1326 668h1v1h-1zM193 669h2v1h-2zM1327 669h1v1h-1zM192 670h1v1h-1zM1328 670h1v1h-1zM188 672h1v1h-1zM186 673h2v1h-2zM1332 673h1v1h-1zM182 674h1v1h-1zM1333 674h2v1h-2zM180 675h2v1h-2zM1393 676h2v1h-2zM174 677h3v1h-3zM1338 677h1v1h-1zM1392 677h1v1h-1zM1339 678h2v1h-2zM168 679h3v1h-3zM163 680h2v1h-2zM1344 680h1v1h-1zM1387 680h2v1h-2zM162 681h1v1h-1zM1345 681h2v1h-2zM1386 681h1v1h-1zM157 682h2v1h-2zM1350 682h2v1h-2zM1382 682h1v1h-1zM156 683h1v1h-1zM1352 683h1v1h-1zM1356 683h3v1h-3zM1380 683h2v1h-2zM1362 684h3v1h-3zM1368 684h3v1h-3zM1374 684h3v1h-3zM151 685h2v1h-2zM150 686h1v1h-1zM146 687h1v1h-1zM144 688h2v1h-2zM0 689h1v1h-1zM139 689h2v1h-2zM1 690h1v1h-1zM138 690h1v1h-1zM2 691h1v1h-1zM133 692h2v1h-2zM132 693h1v1h-1zM6 694h2v1h-2zM8 695h1v1h-1zM127 697h2v1h-2zM126 698h1v1h-1zM12 699h1v1h-1zM13 700h1v1h-1zM14 701h1v1h-1zM121 702h2v1h-2zM120 703h1v1h-1zM18 705h1v1h-1zM19 706h1v1h-1zM116 706h1v1h-1zM20 707h1v1h-1zM115 707h1v1h-1zM114 708h1v1h-1zM24 711h1v1h-1zM109 711h2v1h-2zM25 712h1v1h-1zM108 712h1v1h-1zM26 713h1v1h-1zM104 715h1v1h-1zM103 716h1v1h-1zM30 717h1v1h-1zM102 717h1v1h-1zM31 718h1v1h-1zM32 719h1v1h-1zM98 720h1v1h-1zM97 721h1v1h-1zM36 722h1v1h-1zM96 722h1v1h-1zM37 723h2v1h-2zM92 725h1v1h-1zM42 726h1v1h-1zM91 726h1v1h-1zM43 727h2v1h-2zM90 727h1v1h-1zM48 729h1v1h-1zM86 729h1v1h-1zM49 730h2v1h-2zM84 730h2v1h-2zM54 732h2v1h-2zM80 732h1v1h-1zM56 733h1v1h-1zM78 733h2v1h-2zM60 734h3v1h-3zM73 734h2v1h-2zM66 735h3v1h-3zM72 735h1v1h-1z" fill="#ff0000" shape-rendering="crispEdges"/>
<text x="0" y="596.3" font-size="9.5" fill="#000" textLength="127.5" lengthAdjust="spacingAndGlyphs" stroke="#000" stroke-width="0.18">MACD(12,26,9) -67.99 -138.61</text>
<g shape-rendering="crispEdges">
<line x1="2" y1="791.5" x2="1654" y2="791.5" stroke="#c0c0c0" stroke-width="1" stroke-dasharray="3 3"/>
<line x1="2" y1="842.5" x2="1654" y2="842.5" stroke="#c0c0c0" stroke-width="1" stroke-dasharray="3 3"/>
<line x1="2" y1="903.5" x2="1654" y2="903.5" stroke="#c0c0c0" stroke-width="1" stroke-dasharray="3 3"/>
</g>
<path d="M547 797h1v1h-1zM546 798h1v1h-1zM548 798h1v2h-1zM545 799h1v2h-1zM549 800h1v1h-1zM544 801h1v1h-1zM550 801h1v2h-1zM543 802h1v1h-1zM542 803h1v1h-1zM551 803h1v1h-1zM1123 803h1v1h-1zM541 804h1v2h-1zM552 804h1v2h-1zM1122 804h1v2h-1zM1124 804h1v1h-1zM1125 805h1v1h-1zM540 806h1v1h-1zM553 806h1v1h-1zM1121 806h1v2h-1zM1126 806h1v1h-1zM539 807h1v1h-1zM554 807h1v2h-1zM1127 807h1v1h-1zM537 808h2v1h-2zM560 808h5v1h-5zM1120 808h1v1h-1zM1128 808h1v1h-1zM535 809h2v1h-2zM555 809h5v1h-5zM565 809h2v1h-2zM1119 809h1v2h-1zM1129 809h1v1h-1zM533 810h2v1h-2zM567 810h3v1h-3zM1130 810h1v1h-1zM531 811h2v1h-2zM570 811h2v1h-2zM1118 811h1v1h-1zM1131 811h1v1h-1zM529 812h2v1h-2zM572 812h1v1h-1zM1117 812h1v2h-1zM1132 812h1v1h-1zM527 813h2v1h-2zM573 813h2v1h-2zM1133 813h1v1h-1zM525 814h2v1h-2zM575 814h1v1h-1zM1116 814h1v2h-1zM1134 814h1v1h-1zM522 815h3v1h-3zM576 815h1v1h-1zM1135 815h2v1h-2zM1146 815h2v1h-2zM518 816h4v1h-4zM577 816h2v1h-2zM1107 816h9v1h-9zM1137 816h1v1h-1zM1144 816h2v1h-2zM1148 816h1v1h-1zM515 817h3v1h-3zM579 817h2v1h-2zM1106 817h1v1h-1zM1138 817h1v1h-1zM1141 817h3v1h-3zM1149 817h1v1h-1zM514 818h1v2h-1zM581 818h4v1h-4zM827 818h1v2h-1zM1105 818h1v1h-1zM1139 818h2v1h-2zM1150 818h1v1h-1zM585 819h3v1h-3zM826 819h1v1h-1zM1104 819h1v1h-1zM1151 819h2v1h-2zM513 820h1v2h-1zM588 820h1v2h-1zM825 820h1v1h-1zM828 820h1v2h-1zM1103 820h1v1h-1zM1153 820h1v1h-1zM824 821h1v1h-1zM1102 821h1v1h-1zM1154 821h1v1h-1zM410 822h2v1h-2zM451 822h1v1h-1zM512 822h1v2h-1zM589 822h1v2h-1zM635 822h1v2h-1zM823 822h1v1h-1zM829 822h1v2h-1zM1101 822h1v1h-1zM1155 822h1v1h-1zM394 823h3v1h-3zM408 823h2v1h-2zM412 823h1v1h-1zM450 823h1v2h-1zM452 823h2v1h-2zM634 823h1v1h-1zM811 823h2v1h-2zM822 823h1v1h-1zM1090 823h5v1h-5zM1100 823h1v1h-1zM1156 823h2v1h-2zM378 824h3v1h-3zM392 824h2v1h-2zM397 824h4v1h-4zM405 824h3v1h-3zM413 824h1v1h-1zM454 824h2v1h-2zM511 824h1v1h-1zM590 824h1v2h-1zM633 824h1v2h-1zM636 824h1v3h-1zM810 824h1v1h-1zM813 824h2v1h-2zM821 824h1v1h-1zM830 824h1v2h-1zM1086 824h4v1h-4zM1095 824h5v1h-5zM1158 824h2v1h-2zM330 825h3v1h-3zM376 825h2v1h-2zM381 825h4v1h-4zM389 825h3v1h-3zM401 825h4v1h-4zM414 825h1v1h-1zM449 825h1v2h-1zM456 825h2v1h-2zM474 825h3v1h-3zM510 825h1v2h-1zM603 825h1v1h-1zM809 825h1v1h-1zM815 825h3v1h-3zM820 825h1v1h-1zM1067 825h1v1h-1zM1083 825h3v1h-3zM1160 825h2v1h-2zM328 826h2v1h-2zM333 826h4v1h-4zM373 826h3v1h-3zM385 826h4v1h-4zM415 826h2v1h-2zM458 826h5v1h-5zM470 826h4v1h-4zM477 826h4v1h-4zM591 826h1v2h-1zM602 826h1v1h-1zM604 826h1v1h-1zM632 826h1v1h-1zM739 826h1v1h-1zM808 826h1v1h-1zM818 826h2v1h-2zM831 826h1v2h-1zM1066 826h1v1h-1zM1068 826h1v1h-1zM1082 826h1v1h-1zM1162 826h3v1h-3zM1178 826h10v1h-10zM325 827h3v1h-3zM337 827h3v1h-3zM355 827h1v1h-1zM371 827h2v1h-2zM417 827h1v1h-1zM448 827h1v2h-1zM463 827h7v1h-7zM481 827h3v1h-3zM509 827h1v2h-1zM601 827h1v1h-1zM605 827h1v1h-1zM631 827h1v1h-1zM637 827h1v4h-1zM738 827h1v2h-1zM740 827h1v2h-1zM807 827h1v1h-1zM1065 827h1v1h-1zM1069 827h2v1h-2zM1080 827h2v1h-2zM1165 827h2v1h-2zM1176 827h2v1h-2zM1188 827h1v2h-1zM320 828h5v1h-5zM340 828h1v2h-1zM354 828h1v2h-1zM356 828h2v1h-2zM369 828h2v1h-2zM418 828h1v1h-1zM484 828h2v1h-2zM592 828h1v2h-1zM600 828h1v1h-1zM606 828h1v1h-1zM630 828h1v1h-1zM806 828h1v1h-1zM832 828h1v2h-1zM1064 828h1v1h-1zM1071 828h1v1h-1zM1079 828h1v1h-1zM1167 828h3v1h-3zM1173 828h3v1h-3zM163 829h1v2h-1zM315 829h5v1h-5zM358 829h1v1h-1zM368 829h1v1h-1zM419 829h1v1h-1zM447 829h1v2h-1zM486 829h2v1h-2zM508 829h1v2h-1zM599 829h1v2h-1zM607 829h2v1h-2zM629 829h1v2h-1zM737 829h1v2h-1zM741 829h1v2h-1zM805 829h1v1h-1zM1063 829h1v2h-1zM1072 829h1v1h-1zM1078 829h1v1h-1zM1170 829h3v1h-3zM1189 829h1v1h-1zM164 830h2v1h-2zM313 830h2v1h-2zM341 830h1v1h-1zM353 830h1v1h-1zM359 830h2v1h-2zM366 830h2v1h-2zM420 830h1v1h-1zM488 830h2v1h-2zM593 830h1v2h-1zM609 830h1v1h-1zM618 830h3v1h-3zM804 830h1v1h-1zM833 830h1v2h-1zM866 830h2v1h-2zM1073 830h2v1h-2zM1076 830h2v1h-2zM1190 830h1v2h-1zM162 831h1v2h-1zM166 831h2v1h-2zM298 831h3v1h-3zM311 831h2v1h-2zM342 831h1v1h-1zM352 831h1v1h-1zM361 831h2v1h-2zM364 831h2v1h-2zM421 831h1v1h-1zM446 831h1v2h-1zM490 831h2v1h-2zM507 831h1v1h-1zM598 831h1v1h-1zM610 831h1v1h-1zM614 831h4v1h-4zM621 831h4v1h-4zM628 831h1v1h-1zM638 831h1v3h-1zM736 831h1v1h-1zM742 831h1v1h-1zM803 831h1v1h-1zM862 831h4v1h-4zM868 831h2v1h-2zM1062 831h1v1h-1zM1075 831h1v1h-1zM1203 831h1v2h-1zM168 832h2v1h-2zM296 832h2v1h-2zM301 832h4v1h-4zM309 832h2v1h-2zM343 832h1v2h-1zM351 832h1v2h-1zM363 832h1v1h-1zM422 832h1v1h-1zM492 832h2v1h-2zM505 832h2v1h-2zM594 832h1v2h-1zM597 832h1v1h-1zM611 832h3v1h-3zM625 832h3v1h-3zM691 832h1v2h-1zM735 832h1v2h-1zM743 832h1v2h-1zM802 832h1v1h-1zM834 832h1v2h-1zM859 832h3v1h-3zM870 832h2v1h-2zM1061 832h1v1h-1zM1191 832h1v1h-1zM1202 832h1v1h-1zM161 833h1v3h-1zM170 833h3v1h-3zM293 833h3v1h-3zM305 833h4v1h-4zM423 833h1v2h-1zM445 833h1v2h-1zM494 833h2v1h-2zM503 833h2v1h-2zM596 833h1v1h-1zM692 833h2v1h-2zM800 833h2v1h-2zM858 833h1v2h-1zM872 833h2v1h-2zM1060 833h1v1h-1zM1192 833h1v2h-1zM1201 833h1v1h-1zM1204 833h1v2h-1zM173 834h4v1h-4zM280 834h13v1h-13zM344 834h1v1h-1zM350 834h1v1h-1zM496 834h2v1h-2zM501 834h2v1h-2zM595 834h1v1h-1zM639 834h1v3h-1zM690 834h1v2h-1zM694 834h2v1h-2zM706 834h2v1h-2zM734 834h1v1h-1zM744 834h1v1h-1zM768 834h4v1h-4zM799 834h1v1h-1zM835 834h1v2h-1zM874 834h2v1h-2zM1003 834h1v1h-1zM1059 834h1v1h-1zM1200 834h1v1h-1zM177 835h3v1h-3zM275 835h5v1h-5zM345 835h1v1h-1zM349 835h1v1h-1zM424 835h1v1h-1zM444 835h1v2h-1zM498 835h3v1h-3zM696 835h2v1h-2zM702 835h4v1h-4zM708 835h1v1h-1zM733 835h1v2h-1zM745 835h1v2h-1zM755 835h13v1h-13zM772 835h1v1h-1zM798 835h1v1h-1zM836 835h3v1h-3zM857 835h1v1h-1zM876 835h1v1h-1zM1001 835h2v1h-2zM1004 835h1v2h-1zM1058 835h1v1h-1zM1193 835h1v1h-1zM1198 835h2v1h-2zM1205 835h1v2h-1zM160 836h1v3h-1zM180 836h2v1h-2zM274 836h1v2h-1zM346 836h1v2h-1zM348 836h1v2h-1zM425 836h1v1h-1zM689 836h1v2h-1zM698 836h4v1h-4zM709 836h1v1h-1zM753 836h2v1h-2zM773 836h1v1h-1zM796 836h2v1h-2zM839 836h5v1h-5zM856 836h1v1h-1zM877 836h1v1h-1zM1000 836h1v1h-1zM1057 836h1v1h-1zM1194 836h1v2h-1zM1197 836h1v1h-1zM182 837h1v1h-1zM426 837h1v1h-1zM440 837h4v1h-4zM640 837h1v3h-1zM651 837h1v1h-1zM710 837h1v1h-1zM732 837h1v2h-1zM746 837h1v2h-1zM751 837h2v1h-2zM774 837h1v1h-1zM792 837h4v1h-4zM844 837h1v1h-1zM855 837h1v2h-1zM878 837h1v1h-1zM998 837h2v1h-2zM1005 837h1v1h-1zM1056 837h1v1h-1zM1196 837h1v1h-1zM1206 837h1v3h-1zM183 838h2v1h-2zM273 838h1v1h-1zM347 838h1v1h-1zM427 838h13v1h-13zM650 838h1v2h-1zM652 838h1v1h-1zM688 838h1v2h-1zM711 838h2v1h-2zM749 838h2v1h-2zM775 838h1v2h-1zM787 838h5v1h-5zM845 838h1v1h-1zM879 838h2v1h-2zM890 838h3v1h-3zM996 838h2v1h-2zM1006 838h1v1h-1zM1055 838h1v1h-1zM1195 838h1v1h-1zM91 839h4v1h-4zM104 839h4v1h-4zM159 839h1v2h-1zM185 839h2v1h-2zM272 839h1v1h-1zM653 839h1v1h-1zM713 839h1v1h-1zM730 839h2v1h-2zM747 839h2v1h-2zM785 839h2v1h-2zM846 839h1v1h-1zM854 839h1v1h-1zM881 839h1v1h-1zM888 839h2v1h-2zM893 839h4v1h-4zM995 839h1v1h-1zM1007 839h1v2h-1zM1035 839h10v1h-10zM1054 839h1v1h-1zM89 840h2v1h-2zM95 840h9v1h-9zM107 840h1v1h-1zM187 840h1v1h-1zM271 840h1v2h-1zM641 840h1v4h-1zM649 840h1v1h-1zM654 840h1v1h-1zM687 840h1v3h-1zM714 840h1v1h-1zM726 840h4v1h-4zM776 840h1v1h-1zM784 840h1v1h-1zM847 840h2v1h-2zM853 840h1v1h-1zM882 840h1v1h-1zM885 840h3v1h-3zM897 840h3v1h-3zM994 840h1v1h-1zM1019 840h1v1h-1zM1033 840h2v1h-2zM1045 840h2v1h-2zM1053 840h1v1h-1zM1207 840h1v2h-1zM88 841h1v1h-1zM108 841h1v3h-1zM158 841h1v3h-1zM188 841h1v1h-1zM648 841h1v1h-1zM655 841h1v2h-1zM715 841h11v1h-11zM777 841h1v1h-1zM782 841h2v1h-2zM849 841h1v1h-1zM852 841h1v2h-1zM883 841h2v1h-2zM900 841h2v1h-2zM993 841h1v1h-1zM1008 841h1v1h-1zM1017 841h2v1h-2zM1020 841h2v1h-2zM1032 841h1v1h-1zM1047 841h3v1h-3zM1052 841h1v1h-1zM86 842h2v1h-2zM189 842h1v1h-1zM270 842h1v1h-1zM647 842h1v2h-1zM778 842h1v1h-1zM780 842h2v1h-2zM850 842h1v1h-1zM902 842h1v1h-1zM992 842h1v1h-1zM1009 842h1v1h-1zM1016 842h1v1h-1zM1022 842h2v1h-2zM1030 842h2v1h-2zM1050 842h2v1h-2zM1208 842h1v3h-1zM1379 842h17v1h-17zM84 843h2v1h-2zM190 843h1v1h-1zM259 843h2v1h-2zM269 843h1v1h-1zM656 843h1v1h-1zM686 843h1v2h-1zM779 843h1v1h-1zM851 843h1v1h-1zM903 843h2v1h-2zM990 843h2v1h-2zM1010 843h1v2h-1zM1014 843h2v1h-2zM1024 843h2v1h-2zM1028 843h2v1h-2zM1251 843h2v1h-2zM1363 843h1v1h-1zM1378 843h1v1h-1zM83 844h1v1h-1zM109 844h1v4h-1zM157 844h1v3h-1zM191 844h2v1h-2zM258 844h1v1h-1zM261 844h2v1h-2zM268 844h1v2h-1zM642 844h1v3h-1zM646 844h1v1h-1zM657 844h1v1h-1zM666 844h2v1h-2zM905 844h2v1h-2zM979 844h2v1h-2zM989 844h1v1h-1zM1012 844h2v1h-2zM1026 844h2v1h-2zM1250 844h1v1h-1zM1253 844h4v1h-4zM1362 844h1v1h-1zM1364 844h2v1h-2zM1376 844h2v1h-2zM82 845h1v1h-1zM193 845h1v1h-1zM257 845h1v1h-1zM263 845h3v1h-3zM645 845h1v1h-1zM658 845h1v1h-1zM662 845h4v1h-4zM668 845h2v1h-2zM685 845h1v2h-1zM907 845h1v1h-1zM979 845h1v1h-1zM981 845h4v1h-4zM988 845h1v1h-1zM1011 845h1v1h-1zM1209 845h1v2h-1zM1248 845h2v1h-2zM1257 845h3v1h-3zM1361 845h1v1h-1zM1366 845h1v1h-1zM1375 845h1v1h-1zM81 846h1v1h-1zM194 846h1v1h-1zM256 846h1v1h-1zM266 846h2v1h-2zM644 846h1v2h-1zM659 846h3v1h-3zM670 846h2v1h-2zM908 846h2v1h-2zM978 846h1v2h-1zM985 846h3v1h-3zM1247 846h1v1h-1zM1260 846h1v2h-1zM1360 846h1v1h-1zM1367 846h2v1h-2zM1374 846h1v1h-1zM80 847h1v1h-1zM156 847h1v2h-1zM195 847h1v1h-1zM243 847h1v1h-1zM255 847h1v1h-1zM643 847h1v2h-1zM672 847h2v1h-2zM684 847h1v2h-1zM910 847h1v1h-1zM1210 847h1v2h-1zM1246 847h1v1h-1zM1346 847h3v1h-3zM1358 847h2v1h-2zM1369 847h2v1h-2zM1372 847h2v1h-2zM79 848h1v1h-1zM110 848h1v3h-1zM196 848h2v1h-2zM210 848h3v1h-3zM241 848h2v1h-2zM244 848h2v1h-2zM254 848h1v1h-1zM674 848h3v1h-3zM911 848h2v1h-2zM977 848h1v2h-1zM1244 848h2v1h-2zM1261 848h1v1h-1zM1344 848h2v1h-2zM1349 848h2v1h-2zM1357 848h1v1h-1zM1371 848h1v1h-1zM78 849h1v1h-1zM155 849h1v2h-1zM198 849h2v1h-2zM208 849h2v1h-2zM213 849h2v1h-2zM240 849h1v1h-1zM246 849h2v1h-2zM253 849h1v1h-1zM677 849h4v1h-4zM683 849h1v2h-1zM913 849h2v1h-2zM1211 849h1v3h-1zM1234 849h10v1h-10zM1262 849h1v2h-1zM1341 849h3v1h-3zM1351 849h3v1h-3zM1356 849h1v1h-1zM77 850h1v1h-1zM200 850h2v1h-2zM205 850h3v1h-3zM215 850h3v1h-3zM238 850h2v1h-2zM248 850h2v1h-2zM252 850h1v1h-1zM681 850h2v1h-2zM915 850h9v1h-9zM976 850h1v2h-1zM1232 850h2v1h-2zM1339 850h2v1h-2zM1354 850h2v1h-2zM76 851h1v1h-1zM111 851h1v3h-1zM154 851h1v1h-1zM202 851h3v1h-3zM218 851h2v1h-2zM236 851h2v1h-2zM250 851h2v1h-2zM924 851h1v1h-1zM1229 851h3v1h-3zM1263 851h1v1h-1zM1338 851h1v1h-1zM74 852h2v1h-2zM153 852h1v1h-1zM220 852h1v1h-1zM235 852h1v1h-1zM925 852h1v1h-1zM952 852h4v1h-4zM975 852h1v2h-1zM1212 852h1v2h-1zM1227 852h2v1h-2zM1264 852h1v2h-1zM1337 852h1v1h-1zM70 853h4v1h-4zM152 853h1v1h-1zM221 853h1v2h-1zM234 853h1v1h-1zM926 853h1v1h-1zM947 853h5v1h-5zM956 853h1v1h-1zM1226 853h1v2h-1zM1336 853h1v1h-1zM67 854h3v1h-3zM112 854h1v3h-1zM151 854h1v1h-1zM233 854h1v1h-1zM927 854h1v1h-1zM946 854h1v2h-1zM957 854h2v1h-2zM974 854h1v2h-1zM1213 854h1v2h-1zM1265 854h1v1h-1zM1335 854h1v2h-1zM66 855h1v1h-1zM150 855h1v1h-1zM222 855h1v1h-1zM232 855h1v1h-1zM928 855h1v1h-1zM959 855h1v1h-1zM1225 855h1v2h-1zM1266 855h1v2h-1zM65 856h1v2h-1zM149 856h1v1h-1zM223 856h1v1h-1zM231 856h1v2h-1zM929 856h1v1h-1zM945 856h1v1h-1zM960 856h1v1h-1zM973 856h1v2h-1zM1214 856h1v2h-1zM1334 856h1v1h-1zM113 857h1v4h-1zM148 857h1v1h-1zM224 857h1v1h-1zM930 857h1v1h-1zM944 857h1v1h-1zM961 857h2v1h-2zM1224 857h1v2h-1zM1267 857h1v1h-1zM1333 857h1v1h-1zM64 858h1v1h-1zM146 858h2v1h-2zM225 858h1v2h-1zM230 858h1v1h-1zM931 858h1v1h-1zM943 858h1v2h-1zM963 858h2v1h-2zM972 858h1v2h-1zM1215 858h1v2h-1zM1268 858h1v2h-1zM1332 858h1v1h-1zM63 859h1v1h-1zM144 859h2v1h-2zM229 859h1v1h-1zM932 859h1v1h-1zM965 859h2v1h-2zM1223 859h1v2h-1zM1331 859h1v1h-1zM62 860h1v1h-1zM141 860h3v1h-3zM226 860h1v1h-1zM228 860h1v1h-1zM933 860h2v1h-2zM942 860h1v1h-1zM967 860h3v1h-3zM971 860h1v2h-1zM1216 860h1v2h-1zM1269 860h1v2h-1zM1330 860h1v1h-1zM61 861h1v2h-1zM114 861h1v3h-1zM136 861h5v1h-5zM227 861h1v1h-1zM935 861h1v1h-1zM941 861h1v1h-1zM970 861h1v1h-1zM1222 861h1v2h-1zM1328 861h2v1h-2zM122 862h14v1h-14zM936 862h1v1h-1zM940 862h1v2h-1zM1217 862h1v2h-1zM1270 862h1v1h-1zM1327 862h1v1h-1zM60 863h1v1h-1zM120 863h2v1h-2zM937 863h2v1h-2zM1221 863h1v2h-1zM1271 863h1v2h-1zM1326 863h1v1h-1zM59 864h1v1h-1zM115 864h1v2h-1zM117 864h3v1h-3zM939 864h1v1h-1zM1218 864h1v2h-1zM1324 864h2v1h-2zM57 865h2v1h-2zM116 865h1v1h-1zM1220 865h1v2h-1zM1272 865h1v1h-1zM1323 865h1v3h-1zM55 866h2v1h-2zM1219 866h1v2h-1zM1273 866h1v2h-1zM53 867h2v1h-2zM50 868h3v1h-3zM1274 868h1v2h-1zM1322 868h1v4h-1zM46 869h4v1h-4zM35 870h11v1h-11zM1275 870h1v1h-1zM35 871h1v1h-1zM1276 871h1v1h-1zM34 872h1v3h-1zM1277 872h1v2h-1zM1321 872h1v4h-1zM1278 874h1v1h-1zM33 875h1v2h-1zM1279 875h1v1h-1zM1280 876h1v1h-1zM1320 876h1v5h-1zM32 877h1v3h-1zM1281 877h1v2h-1zM1282 879h1v1h-1zM11 880h1v1h-1zM31 880h1v3h-1zM1283 880h2v1h-2zM10 881h1v1h-1zM12 881h2v1h-2zM1285 881h4v1h-4zM1319 881h1v4h-1zM9 882h1v1h-1zM14 882h2v1h-2zM1289 882h4v1h-4zM8 883h1v1h-1zM16 883h2v1h-2zM30 883h1v3h-1zM1293 883h4v1h-4zM7 884h1v1h-1zM18 884h2v1h-2zM1297 884h4v1h-4zM0 885h1v1h-1zM6 885h1v1h-1zM20 885h1v1h-1zM1301 885h2v1h-2zM1318 885h1v5h-1zM1 886h1v1h-1zM5 886h1v1h-1zM21 886h1v1h-1zM29 886h1v2h-1zM1303 886h3v1h-3zM2 887h1v1h-1zM4 887h1v1h-1zM22 887h1v1h-1zM1306 887h2v1h-2zM3 888h1v1h-1zM23 888h1v1h-1zM28 888h1v3h-1zM1308 888h1v2h-1zM24 889h1v1h-1zM25 890h1v1h-1zM1309 890h1v2h-1zM1317 890h1v4h-1zM26 891h2v1h-2zM27 892h1v1h-1zM1310 892h1v1h-1zM1311 893h1v2h-1zM1316 894h1v4h-1zM1312 895h1v1h-1zM1313 896h1v2h-1zM1314 898h2v1h-2zM1314 899h2v1h-2zM1315 900h1v1h-1z" fill="#1e90ff" shape-rendering="crispEdges"/>
<line x1="1314.4" y1="897.8" x2="1330.8" y2="863.5" stroke="#ff0000" stroke-width="3.2" stroke-linecap="butt"/>
<polygon points="1334.3,856.3 1334.3,867.4 1325.7,863.3" fill="#ff0000"/>
<line x1="1334.0" y1="857.0" x2="1388.0" y2="841.6" stroke="#ff0000" stroke-width="3.2" stroke-linecap="butt"/>
<polygon points="1395.7,839.4 1387.4,846.7 1384.8,837.6" fill="#ff0000"/>
<text x="-1" y="768" font-size="9.5" fill="#000" textLength="68" lengthAdjust="spacingAndGlyphs" stroke="#000" stroke-width="0.18">RSI(14) 51.5458</text>
<g shape-rendering="crispEdges">
<rect x="1654" y="28" width="46" height="917" fill="#fff"/>
<rect x="0" y="28" width="1654" height="1" fill="#000"/>
<rect x="1653" y="28" width="1" height="902" fill="#000"/>
<rect x="0" y="581" width="1654" height="1" fill="#000"/>
<rect x="0" y="583" width="1654" height="1" fill="#000"/>
<rect x="0" y="582" width="1653" height="1" fill="#fff"/>
<rect x="0" y="753" width="1654" height="1" fill="#000"/>
<rect x="0" y="755" width="1654" height="1" fill="#000"/>
<rect x="0" y="754" width="1653" height="1" fill="#fff"/>
<rect x="0" y="929" width="1654" height="1" fill="#000"/>
<rect x="0" y="930" width="1700" height="15" fill="#fff"/>
<rect x="1654" y="50" width="3" height="1" fill="#000"/>
<rect x="1654" y="83" width="3" height="1" fill="#000"/>
<rect x="1654" y="117" width="3" height="1" fill="#000"/>
<rect x="1654" y="149" width="3" height="1" fill="#000"/>
<rect x="1654" y="182" width="3" height="1" fill="#000"/>
<rect x="1654" y="215" width="3" height="1" fill="#000"/>
<rect x="1654" y="248" width="3" height="1" fill="#000"/>
<rect x="1654" y="282" width="3" height="1" fill="#000"/>
<rect x="1654" y="314" width="3" height="1" fill="#000"/>
<rect x="1654" y="347" width="3" height="1" fill="#000"/>
<rect x="1654" y="380" width="3" height="1" fill="#000"/>
<rect x="1654" y="413" width="3" height="1" fill="#000"/>
<rect x="1654" y="446" width="3" height="1" fill="#000"/>
<rect x="1654" y="480" width="3" height="1" fill="#000"/>
<rect x="1654" y="512" width="3" height="1" fill="#000"/>
<rect x="1654" y="545" width="3" height="1" fill="#000"/>
<rect x="1654" y="578" width="3" height="1" fill="#000"/>
</g>
<text x="1659.5" y="53.5" font-size="9.5" fill="#000" textLength="32.3" lengthAdjust="spacingAndGlyphs" stroke="#000" stroke-width="0.18">29456.0</text>
<text x="1659.5" y="86.3338" font-size="9.5" fill="#000" textLength="32.3" lengthAdjust="spacingAndGlyphs" stroke="#000" stroke-width="0.18">29308.0</text>
<text x="1659.5" y="120.055" font-size="9.5" fill="#000" textLength="32.3" lengthAdjust="spacingAndGlyphs" stroke="#000" stroke-width="0.18">29156.0</text>
<text x="1659.5" y="152.889" font-size="9.5" fill="#000" textLength="32.3" lengthAdjust="spacingAndGlyphs" stroke="#000" stroke-width="0.18">29008.0</text>
<text x="1659.5" y="185.723" font-size="9.5" fill="#000" textLength="32.3" lengthAdjust="spacingAndGlyphs" stroke="#000" stroke-width="0.18">28860.0</text>
<text x="1659.5" y="218.556" font-size="9.5" fill="#000" textLength="32.3" lengthAdjust="spacingAndGlyphs" stroke="#000" stroke-width="0.18">28712.0</text>
<text x="1659.5" y="251.39" font-size="9.5" fill="#000" textLength="32.3" lengthAdjust="spacingAndGlyphs" stroke="#000" stroke-width="0.18">28564.0</text>
<text x="1659.5" y="285.111" font-size="9.5" fill="#000" textLength="32.3" lengthAdjust="spacingAndGlyphs" stroke="#000" stroke-width="0.18">28412.0</text>
<text x="1659.5" y="317.945" font-size="9.5" fill="#000" textLength="32.3" lengthAdjust="spacingAndGlyphs" stroke="#000" stroke-width="0.18">28264.0</text>
<text x="1659.5" y="350.779" font-size="9.5" fill="#000" textLength="32.3" lengthAdjust="spacingAndGlyphs" stroke="#000" stroke-width="0.18">28116.0</text>
<text x="1659.5" y="383.613" font-size="9.5" fill="#000" textLength="32.3" lengthAdjust="spacingAndGlyphs" stroke="#000" stroke-width="0.18">27968.0</text>
<text x="1659.5" y="416.447" font-size="9.5" fill="#000" textLength="32.3" lengthAdjust="spacingAndGlyphs" stroke="#000" stroke-width="0.18">27820.0</text>
<text x="1659.5" y="449.28" font-size="9.5" fill="#000" textLength="32.3" lengthAdjust="spacingAndGlyphs" stroke="#000" stroke-width="0.18">27672.0</text>
<text x="1659.5" y="483.002" font-size="9.5" fill="#000" textLength="32.3" lengthAdjust="spacingAndGlyphs" stroke="#000" stroke-width="0.18">27520.0</text>
<text x="1659.5" y="515.835" font-size="9.5" fill="#000" textLength="32.3" lengthAdjust="spacingAndGlyphs" stroke="#000" stroke-width="0.18">27372.0</text>
<text x="1659.5" y="548.669" font-size="9.5" fill="#000" textLength="32.3" lengthAdjust="spacingAndGlyphs" stroke="#000" stroke-width="0.18">27224.0</text>
<text x="1659.5" y="581.503" font-size="9.5" fill="#000" textLength="32.3" lengthAdjust="spacingAndGlyphs" stroke="#000" stroke-width="0.18">27076.0</text>
<g shape-rendering="crispEdges">
<rect x="1655" y="152" width="41" height="10" fill="#ff0000"/>
<rect x="1648.5" y="155.5" width="4" height="4" fill="#fff" stroke="#ff0000" stroke-width="1"/>
<rect x="1655" y="172" width="41" height="10" fill="#ff0000"/>
<rect x="1655" y="188" width="41" height="10" fill="#000000"/>
<rect x="1655" y="198" width="41" height="10" fill="#32cd32"/>
<rect x="1655" y="213" width="41" height="10" fill="#0000ff"/>
<rect x="1648.5" y="217.5" width="4" height="4" fill="#fff" stroke="#0000ff" stroke-width="1"/>
<rect x="1655" y="230" width="41" height="11" fill="#0000ff"/>
<rect x="1648.5" y="234.5" width="4" height="4" fill="#fff" stroke="#0000ff" stroke-width="1"/>
</g>
<text x="1659.5" y="160.2" font-size="9.5" fill="#fff" textLength="32.3" lengthAdjust="spacingAndGlyphs" stroke="#fff" stroke-width="0.18">28972.0</text>
<text x="1659.5" y="180.2" font-size="9.5" fill="#fff" textLength="32.3" lengthAdjust="spacingAndGlyphs" stroke="#fff" stroke-width="0.18">28877.5</text>
<text x="1659.5" y="196.2" font-size="9.5" fill="#fff" textLength="32.3" lengthAdjust="spacingAndGlyphs" stroke="#fff" stroke-width="0.18">28810.0</text>
<text x="1659.5" y="206.2" font-size="9.5" fill="#fff" textLength="32.3" lengthAdjust="spacingAndGlyphs" stroke="#fff" stroke-width="0.18">28760.5</text>
<text x="1659.5" y="221.2" font-size="9.5" fill="#fff" textLength="32.3" lengthAdjust="spacingAndGlyphs" stroke="#fff" stroke-width="0.18">28693.0</text>
<text x="1659.5" y="238.7" font-size="9.5" fill="#fff" textLength="32.3" lengthAdjust="spacingAndGlyphs" stroke="#fff" stroke-width="0.18">28616.5</text>
<text x="1657.5" y="594.1" font-size="9.5" fill="#000" textLength="27.7" lengthAdjust="spacingAndGlyphs" stroke="#000" stroke-width="0.18">219.03</text>
<text x="1657.5" y="643.9" font-size="9.5" fill="#000" textLength="17.5" lengthAdjust="spacingAndGlyphs" stroke="#000" stroke-width="0.18">0.00</text>
<text x="1657.5" y="749.7" font-size="9.5" fill="#000" textLength="30.5" lengthAdjust="spacingAndGlyphs" stroke="#000" stroke-width="0.18">-449.71</text>
<g shape-rendering="crispEdges">
<rect x="1654" y="640" width="3" height="1" fill="#000"/>
</g>
<text x="1657.3" y="765.6" font-size="9.5" fill="#000" textLength="14.4" lengthAdjust="spacingAndGlyphs" stroke="#000" stroke-width="0.18">100</text>
<text x="1656.6" y="794.2" font-size="9.5" fill="#000" textLength="9.3" lengthAdjust="spacingAndGlyphs" stroke="#000" stroke-width="0.18">80</text>
<text x="1656.6" y="845.7" font-size="9.5" fill="#000" textLength="9.3" lengthAdjust="spacingAndGlyphs" stroke="#000" stroke-width="0.18">50</text>
<text x="1656.6" y="906.4" font-size="9.5" fill="#000" textLength="9.3" lengthAdjust="spacingAndGlyphs" stroke="#000" stroke-width="0.18">15</text>
<text x="1657.3" y="925.5" font-size="9.5" fill="#000" textLength="4.4" lengthAdjust="spacingAndGlyphs" stroke="#000" stroke-width="0.18">0</text>
<g shape-rendering="crispEdges">
<rect x="-5" y="930" width="1" height="3" fill="#000"/>
<rect x="59" y="930" width="1" height="3" fill="#000"/>
<rect x="123" y="930" width="1" height="3" fill="#000"/>
<rect x="187" y="930" width="1" height="3" fill="#000"/>
<rect x="251" y="930" width="1" height="3" fill="#000"/>
<rect x="315" y="930" width="1" height="3" fill="#000"/>
<rect x="379" y="930" width="1" height="3" fill="#000"/>
<rect x="443" y="930" width="1" height="3" fill="#000"/>
<rect x="507" y="930" width="1" height="3" fill="#000"/>
<rect x="571" y="930" width="1" height="3" fill="#000"/>
<rect x="635" y="930" width="1" height="3" fill="#000"/>
<rect x="699" y="930" width="1" height="3" fill="#000"/>
<rect x="763" y="930" width="1" height="3" fill="#000"/>
<rect x="827" y="930" width="1" height="3" fill="#000"/>
<rect x="891" y="930" width="1" height="3" fill="#000"/>
<rect x="955" y="930" width="1" height="3" fill="#000"/>
<rect x="1019" y="930" width="1" height="3" fill="#000"/>
<rect x="1083" y="930" width="1" height="3" fill="#000"/>
<rect x="1147" y="930" width="1" height="3" fill="#000"/>
<rect x="1211" y="930" width="1" height="3" fill="#000"/>
<rect x="1275" y="930" width="1" height="3" fill="#000"/>
<rect x="1339" y="930" width="1" height="3" fill="#000"/>
</g>
<text x="-6" y="942.2" font-size="9.5" fill="#000" stroke="#000" stroke-width="0.18">12 May 2021</text>
<text x="58" y="942.2" font-size="9.5" fill="#000" stroke="#000" stroke-width="0.18">13 May 23:30</text>
<text x="122" y="942.2" font-size="9.5" fill="#000" stroke="#000" stroke-width="0.18">17 May 04:00</text>
<text x="186" y="942.2" font-size="9.5" fill="#000" stroke="#000" stroke-width="0.18">18 May 14:55</text>
<text x="250" y="942.2" font-size="9.5" fill="#000" stroke="#000" stroke-width="0.18">19 May 23:30</text>
<text x="314" y="942.2" font-size="9.5" fill="#000" stroke="#000" stroke-width="0.18">21 May 04:00</text>
<text x="378" y="942.2" font-size="9.5" fill="#000" stroke="#000" stroke-width="0.18">24 May 14:55</text>
<text x="442" y="942.2" font-size="9.5" fill="#000" stroke="#000" stroke-width="0.18">25 May 23:30</text>
<text x="506" y="942.2" font-size="9.5" fill="#000" stroke="#000" stroke-width="0.18">27 May 04:00</text>
<text x="570" y="942.2" font-size="9.5" fill="#000" stroke="#000" stroke-width="0.18">28 May 14:55</text>
<text x="634" y="942.2" font-size="9.5" fill="#000" stroke="#000" stroke-width="0.18">31 May 23:30</text>
<text x="698" y="942.2" font-size="9.5" fill="#000" stroke="#000" stroke-width="0.18">2 Jun 04:00</text>
<text x="762" y="942.2" font-size="9.5" fill="#000" stroke="#000" stroke-width="0.18">3 Jun 14:55</text>
<text x="826" y="942.2" font-size="9.5" fill="#000" stroke="#000" stroke-width="0.18">6 Jun 23:30</text>
<text x="890" y="942.2" font-size="9.5" fill="#000" stroke="#000" stroke-width="0.18">8 Jun 04:00</text>
<text x="954" y="942.2" font-size="9.5" fill="#000" stroke="#000" stroke-width="0.18">9 Jun 14:55</text>
<text x="1018" y="942.2" font-size="9.5" fill="#000" stroke="#000" stroke-width="0.18">10 Jun 23:30</text>
<text x="1082" y="942.2" font-size="9.5" fill="#000" stroke="#000" stroke-width="0.18">14 Jun 04:00</text>
<text x="1146" y="942.2" font-size="9.5" fill="#000" stroke="#000" stroke-width="0.18">15 Jun 14:55</text>
<text x="1210" y="942.2" font-size="9.5" fill="#000" stroke="#000" stroke-width="0.18">16 Jun 23:30</text>
<text x="1274" y="942.2" font-size="9.5" fill="#000" stroke="#000" stroke-width="0.18">18 Jun 04:00</text>
<text x="1338" y="942.2" font-size="9.5" fill="#000" stroke="#000" stroke-width="0.18">21 Jun 14:55</text>
<g shape-rendering="crispEdges">
<rect x="0" y="0" width="1700" height="24" fill="#f0f0f0"/>
<rect x="0" y="23" width="1700" height="1" fill="#e3e3e3"/>
<rect x="0" y="24" width="1700" height="1" fill="#a0a0a0"/>
<rect x="0" y="25" width="1700" height="1" fill="#646464"/>
<rect x="0" y="26" width="1700" height="2" fill="#fff"/>
<rect x="1699" y="26" width="1" height="919" fill="#e8e8e8"/>
<rect x="14" y="2" width="1" height="20" fill="#a0a0a0"/>
<rect x="250" y="0" width="1" height="24" fill="#a0a0a0"/>
<rect x="251" y="0" width="1" height="24" fill="#fff"/>
<rect x="254" y="2" width="3" height="1" fill="#a8a8a8"/>
<rect x="254" y="4" width="3" height="1" fill="#a8a8a8"/>
<rect x="254" y="6" width="3" height="1" fill="#a8a8a8"/>
<rect x="254" y="8" width="3" height="1" fill="#a8a8a8"/>
<rect x="254" y="10" width="3" height="1" fill="#a8a8a8"/>
<rect x="254" y="12" width="3" height="1" fill="#a8a8a8"/>
<rect x="254" y="14" width="3" height="1" fill="#a8a8a8"/>
<rect x="254" y="16" width="3" height="1" fill="#a8a8a8"/>
<rect x="254" y="18" width="3" height="1" fill="#a8a8a8"/>
<rect x="254" y="20" width="3" height="1" fill="#a8a8a8"/>
<rect x="345" y="2" width="1" height="20" fill="#a0a0a0"/>
<rect x="435" y="2" width="1" height="20" fill="#a0a0a0"/>
<rect x="497" y="2" width="1" height="20" fill="#a0a0a0"/>
<rect x="618" y="0" width="1" height="24" fill="#a0a0a0"/>
<rect x="619" y="0" width="1" height="24" fill="#fff"/>
<rect x="622" y="2" width="3" height="1" fill="#a8a8a8"/>
<rect x="622" y="4" width="3" height="1" fill="#a8a8a8"/>
<rect x="622" y="6" width="3" height="1" fill="#a8a8a8"/>
<rect x="622" y="8" width="3" height="1" fill="#a8a8a8"/>
<rect x="622" y="10" width="3" height="1" fill="#a8a8a8"/>
<rect x="622" y="12" width="3" height="1" fill="#a8a8a8"/>
<rect x="622" y="14" width="3" height="1" fill="#a8a8a8"/>
<rect x="622" y="16" width="3" height="1" fill="#a8a8a8"/>
<rect x="622" y="18" width="3" height="1" fill="#a8a8a8"/>
<rect x="622" y="20" width="3" height="1" fill="#a8a8a8"/>
<rect x="685" y="2" width="1" height="20" fill="#a0a0a0"/>
<rect x="924" y="0" width="1" height="24" fill="#a0a0a0"/>
<rect x="925" y="0" width="1" height="24" fill="#fff"/>
<rect x="928" y="2" width="3" height="1" fill="#a8a8a8"/>
<rect x="928" y="4" width="3" height="1" fill="#a8a8a8"/>
<rect x="928" y="6" width="3" height="1" fill="#a8a8a8"/>
<rect x="928" y="8" width="3" height="1" fill="#a8a8a8"/>
<rect x="928" y="10" width="3" height="1" fill="#a8a8a8"/>
<rect x="928" y="12" width="3" height="1" fill="#a8a8a8"/>
<rect x="928" y="14" width="3" height="1" fill="#a8a8a8"/>
<rect x="928" y="16" width="3" height="1" fill="#a8a8a8"/>
<rect x="928" y="18" width="3" height="1" fill="#a8a8a8"/>
<rect x="928" y="20" width="3" height="1" fill="#a8a8a8"/>
<rect x="1185" y="0" width="1" height="24" fill="#a0a0a0"/>
<rect x="1186" y="0" width="1" height="24" fill="#fff"/>
<rect x="288" y="0" width="25" height="22" fill="#f8f8f8"/>
<rect x="288" y="0" width="25" height="1" fill="#808080"/>
<rect x="288" y="0" width="1" height="22" fill="#808080"/>
<rect x="312" y="1" width="1" height="21" fill="#fff"/>
<rect x="289" y="21" width="24" height="1" fill="#fff"/>
<rect x="440" y="0" width="25" height="22" fill="#f8f8f8"/>
<rect x="440" y="0" width="25" height="1" fill="#808080"/>
<rect x="440" y="0" width="1" height="22" fill="#808080"/>
<rect x="464" y="1" width="1" height="21" fill="#fff"/>
<rect x="441" y="21" width="24" height="1" fill="#fff"/>
<rect x="468" y="0" width="25" height="22" fill="#f8f8f8"/>
<rect x="468" y="0" width="25" height="1" fill="#808080"/>
<rect x="468" y="0" width="1" height="22" fill="#808080"/>
<rect x="492" y="1" width="1" height="21" fill="#fff"/>
<rect x="469" y="21" width="24" height="1" fill="#fff"/>
<rect x="628" y="0" width="25" height="22" fill="#f8f8f8"/>
<rect x="628" y="0" width="25" height="1" fill="#808080"/>
<rect x="628" y="0" width="1" height="22" fill="#808080"/>
<rect x="652" y="1" width="1" height="21" fill="#fff"/>
<rect x="629" y="21" width="24" height="1" fill="#fff"/>
<rect x="1074" y="0" width="25" height="22" fill="#f8f8f8"/>
<rect x="1074" y="0" width="25" height="1" fill="#808080"/>
<rect x="1074" y="0" width="1" height="22" fill="#808080"/>
<rect x="1098" y="1" width="1" height="21" fill="#fff"/>
<rect x="1075" y="21" width="24" height="1" fill="#fff"/>
</g>
<circle cx="-2.5" cy="10.5" r="5.3" fill="#d6e9f8" stroke="#5a8fd0" stroke-width="1.2"/>
<line x1="1.2" y1="16" x2="6" y2="21" stroke="#c9a040" stroke-width="2.6" stroke-linecap="round"/>
<path d="M24.5 4.5h7.5l3.5 3.5v10h-11z" fill="#fff" stroke="#707070" stroke-width="1"/>
<path d="M32 4.5v3.5h3.5" fill="#e8e8e8" stroke="#707070" stroke-width="1"/>
<path d="M26.5 7.5h3M26.5 10.5h6M26.5 13.5h4" stroke="#9a9a9a" stroke-width="1"/>
<path d="M32.2 10.5h3.6v3.7h3.7v3.6h-3.7v3.7h-3.6v-3.7h-3.7v-3.6h3.7z" fill="#22c022" stroke="#0c8a0c" stroke-width="0.9"/>
<path d="M91 13.2L98.2 5l8.6 6.8-6.8 8.4z" fill="#e2b030" stroke="#a87414" stroke-width="1"/>
<path d="M92.2 13.4L98.4 6.4l4.2 3.2-6 7.2z" fill="#f6d868" opacity="0.85"/>
<path d="M91 13.2l9 7 6.8-8.4" fill="none" stroke="#8a5c10" stroke-width="1.6"/>
<rect x="121.8" y="4.500" width="9.800" height="11" fill="#2f9aee" stroke="#1c6cc8" stroke-width="1"/>
<rect x="123.5" y="6.5" width="5.5" height="2" fill="#d8eeff"/>
<rect x="124" y="10" width="4.5" height="1.2" fill="#bfe0ff"/>
<path d="M122.2 20c-3.8 0-4.2-4.6-1-5 0.2-3 4.4-3.800 5.600-1.200 1.800-1.800 5.200-0.600 5 2 3.600 0 3.800 4.200 0.600 4.200z" fill="#eef3fa" stroke="#7f9cc8" stroke-width="1"/>
<circle cx="155" cy="11.8" r="7.3" fill="none" stroke="#9db8e6" stroke-width="1.1"/>
<path d="M155 4.5a7.3 7.3 0 0 1 0 14.6" fill="none" stroke="#8cc48c" stroke-width="1.2"/>
<circle cx="155" cy="11.8" r="4.5" fill="none" stroke="#5a86d8" stroke-width="1.3"/>
<path d="M155 7.3a4.5 4.5 0 0 1 0 9" fill="none" stroke="#4aa84a" stroke-width="1.4"/>
<circle cx="155" cy="11.6" r="1.8" fill="#2a5ad0"/>
<path d="M155.6 12v7.2" stroke="#2ea02e" stroke-width="1.6"/>
<path d="M176 10.5c1 5 4 8.5 7.5 9.5 2.5-1 4.5-4.5 5-9.5z" fill="#f4d040" stroke="#c89a18" stroke-width="0.9"/>
<ellipse cx="182" cy="8.8" rx="8" ry="2.6" fill="#4a9adc" stroke="#2a70b8" stroke-width="0.8"/>
<path d="M177.8 8.2c0-5 8.4-5 8.4 0z" fill="#5aaae8" stroke="#2a70b8" stroke-width="0.8"/>
<circle cx="186.4" cy="15.8" r="4.1" fill="#d8281c" stroke="#b01810" stroke-width="0.6"/>
<rect x="184.6" y="14" width="3.6" height="3.6" fill="#fff"/>
<path d="M268.5 6.5V20M266 17.5H279.5" stroke="#505050" stroke-width="1.2" fill="none"/>
<path d="M268.5 5L266.5 8.2h4zM280.8 17.5l-3.2-2v4z" fill="#505050"/>
<path d="M274.5 8v7.2M274.5 8.6h2.6M274.5 14.6h-2.6" stroke="#1a9a1a" stroke-width="1.4" fill="none"/>
<path d="M296.5 6.5V20M294 17.5H307.5" stroke="#505050" stroke-width="1.2" fill="none"/>
<path d="M296.5 5L294.5 8.2h4zM308.8 17.5l-3.2-2v4z" fill="#505050"/>
<path d="M302.5 4v12.4" stroke="#128a12" stroke-width="1.3"/>
<rect x="300.4" y="7" width="4.2" height="6.5" fill="#3fdc3f" stroke="#128a12" stroke-width="0.9"/>
<path d="M324.5 6.5V20M322 17.5H335.5" stroke="#505050" stroke-width="1.2" fill="none"/>
<path d="M324.5 5L322.5 8.2h4zM336.8 17.5l-3.2-2v4z" fill="#505050"/>
<path d="M323.2 15c2.4-1 3.6-5.6 6-5.6 2 0 3.4 3 5.8 4" stroke="#2a9a2a" stroke-width="1.4" fill="none"/>
<line x1="364.4" y1="14.2" x2="369.2" y2="19.2" stroke="#c9a030" stroke-width="2.8" stroke-linecap="round"/>
<circle cx="360.2" cy="9.9" r="5.4" fill="#d9ecfa" stroke="#3f80d4" stroke-width="1.4"/>
<path d="M357.2 9.9h6" stroke="#3a78b8" stroke-width="1.7"/>
<path d="M360.2 6.9v6" stroke="#3a78b8" stroke-width="1.7"/>
<line x1="392.4" y1="14.2" x2="397.2" y2="19.2" stroke="#c9a030" stroke-width="2.8" stroke-linecap="round"/>
<circle cx="388.2" cy="9.9" r="5.4" fill="#d9ecfa" stroke="#3f80d4" stroke-width="1.4"/>
<path d="M385.2 9.9h6" stroke="#3a78b8" stroke-width="1.7"/>
<rect x="410" y="4" width="7.8" height="7.8" fill="#4aa81e"/>
<rect x="411.3" y="7" width="5.2" height="3.6" fill="#fff" opacity="0.9"/>
<rect x="412.2" y="8.2" width="3.4" height="0.9" fill="#4aa81e" opacity="0.7"/>
<rect x="418.2" y="4" width="7.8" height="7.8" fill="#2f62d6"/>
<rect x="419.5" y="7" width="5.2" height="3.6" fill="#fff" opacity="0.9"/>
<rect x="420.4" y="8.2" width="3.4" height="0.9" fill="#2f62d6" opacity="0.7"/>
<rect x="410" y="12.2" width="7.8" height="7.8" fill="#2f62d6"/>
<rect x="411.3" y="15.2" width="5.2" height="3.6" fill="#fff" opacity="0.9"/>
<rect x="412.2" y="16.4" width="3.4" height="0.9" fill="#2f62d6" opacity="0.7"/>
<rect x="418.2" y="12.2" width="7.8" height="7.8" fill="#4aa81e"/>
<rect x="419.5" y="15.2" width="5.2" height="3.6" fill="#fff" opacity="0.9"/>
<rect x="420.4" y="16.4" width="3.4" height="0.9" fill="#4aa81e" opacity="0.7"/>
<path d="M448.5 6.5V20M446 17.5H459.5" stroke="#505050" stroke-width="1.2" fill="none"/>
<path d="M448.5 5L446.5 8.2h4zM460.8 17.5l-3.2-2v4z" fill="#505050"/>
<path d="M453.3 8l4.2 3.6-4.2 3.6z" fill="#7fe07f" stroke="#18a018" stroke-width="1"/>
<path d="M476.5 6.5V20M474 17.5H487.5" stroke="#505050" stroke-width="1.2" fill="none"/>
<path d="M476.5 5L474.5 8.2h4zM488.8 17.5l-3.2-2v4z" fill="#505050"/>
<path d="M482.5 6v10" stroke="#2a6ab8" stroke-width="1.3"/>
<path d="M483.6 11.5l3-2.4v1.6h1.8v1.6h-1.8v1.6z" fill="#e05010"/>
<path d="M507.5 4.5h6.5l3 3v9.5h-9.5z" fill="#fff" stroke="#808080" stroke-width="1"/>
<path d="M512.5 7.2c-1.6-0.4-2 0.4-2 1.6v5.6M509.4 10.6h2.8" stroke="#606060" stroke-width="0.9" fill="none"/>
<path d="M515.2 10.5h3.6v3.7h3.7v3.6h-3.7v3.7h-3.6v-3.7h-3.7v-3.6h3.7z" fill="#22c022" stroke="#0c8a0c" stroke-width="0.9"/>
<path d="M528.8 11.2h5.6l-2.8 3.2z" fill="#000"/>
<path d="M567.8 11.2h5.6l-2.8 3.2z" fill="#000"/>
<path d="M606.6 11.2h5.6l-2.8 3.2z" fill="#000"/>
<path d="M912.9 11.2h5.6l-2.8 3.2z" fill="#000"/>
<circle cx="553" cy="12" r="6.700" fill="#fff" stroke="#2468cc" stroke-width="2.900"/>
<circle cx="553" cy="12" r="5" fill="#f6f9fd" stroke="#8ab4ea" stroke-width="0.600"/>
<path d="M553 8v4.2h2.8" stroke="#303030" stroke-width="1.1" fill="none"/>
<rect x="584.5" y="5.5" width="15" height="13" fill="#fff" stroke="#4a86d8" stroke-width="1.2"/>
<rect x="584.5" y="5.5" width="15" height="2" fill="#6aa2ea"/>
<path d="M585 13.2h14" stroke="#4a86d8" stroke-width="0.9"/>
<path d="M586.5 11.4l3-1.2 2 0.2 2.4-1.4 2 0.8 2-0.8" stroke="#a82010" stroke-width="1.2" fill="none"/>
<path d="M586.8 16.6l2.6-0.4 2-1.2 2 0.8 2-1.8 2.4 2.2" stroke="#1a8a1a" stroke-width="1.1" fill="none"/>
<path d="M636 4.8V17.4l3-2.7 2.4 5 2-1-2.4-4.8h4z" fill="#484848"/>
<path d="M668.5 5v6M668.5 14v6M661 12.5h6M670 12.5h6" stroke="#505050" stroke-width="1.3"/>
<rect x="668" y="12" width="1" height="1" fill="#505050"/>
<path d="M702.5 6v13M725 12.5h12M752.8 19l12-12" stroke="#505050" stroke-width="1.3"/>
<path d="M779 14l7.5-8M780.5 18l9-10M785 18.5l7-8" stroke="#505050" stroke-width="1.1"/>
<path d="M781.5 12.5l2 5M784 9.8l2.2 5.6M786.6 7l2.4 5.8M790.5 4.2l0.8 7" stroke="#505050" stroke-width="0.9"/>
<path d="M808 5.5H821" stroke="#505050" stroke-width="1" stroke-dasharray="1 1"/>
<path d="M808 8.5H821" stroke="#505050" stroke-width="1" stroke-dasharray="1 1"/>
<path d="M808 12.5H821" stroke="#505050" stroke-width="1" stroke-dasharray="1 1"/>
<path d="M808 16.5H817" stroke="#505050" stroke-width="1" stroke-dasharray="1 1"/>
<rect x="865.2" y="6.5" width="11.5" height="12.5" fill="none" stroke="#505050" stroke-width="1" stroke-dasharray="1 1"/>
<rect x="864.2" y="5.5" width="2" height="1.5" fill="#505050"/>
<path d="M895.8 6l3.2 3-3.2 2.6-3.2-2.6z" fill="#404040"/>
<path d="M902.4 14l3.4 2.6-3.4 3-3.4-3z" fill="#404040"/>
<path d="M894.5 12.8l2.4 2.4 4.6-5.4" stroke="#404040" stroke-width="1.3" fill="none"/>
<circle cx="1655.6" cy="9.4" r="4.1" fill="#fbfbff" stroke="#2b5fd6" stroke-width="1.2"/>
<line x1="1652.6" y1="12.4" x2="1648" y2="16.8" stroke="#2458d0" stroke-width="2.2" stroke-linecap="round"/>
<path d="M1672.4 14.2c0-3 2.6-4.8 5.6-4.8s5.6 1.8 5.6 4.6-2.6 4.4-5.8 4.4c-0.6 0-1.2 0-1.6-0.2l-1.2 2.2-0.6-2.8c-1.2-0.8-2-2-2-3.400z" fill="#e6e8f0" stroke="#b8b8bc" stroke-width="0.8"/>
<circle cx="1686.5" cy="9.6" r="8.2" fill="url(#gRed)"/>
<text x="42.8" y="15" font-size="12" fill="#000" font-weight="500" textLength="36" lengthAdjust="spacingAndGlyphs" font-family='"Liberation Sans","Noto Sans CJK SC",sans-serif'>新订单</text>
<text x="195.9" y="15" font-size="12" fill="#000" font-weight="500" textLength="46.2" lengthAdjust="spacingAndGlyphs" font-family='"Liberation Sans","Noto Sans CJK SC",sans-serif'>自动交易</text>
<text x="790" y="21" font-size="7.5" fill="#404040" font-weight="bold" stroke="#404040" stroke-width="0.18">E</text>
<text x="817.6" y="21" font-size="7.5" fill="#404040" font-weight="bold" stroke="#404040" stroke-width="0.18">F</text>
<text x="838.8" y="17" font-size="12.5" fill="#505050" font-weight="bold" textLength="7.6" lengthAdjust="spacingAndGlyphs">A</text>
<text x="867.3" y="17" font-size="11.5" fill="#505050" font-weight="bold" textLength="7.4" lengthAdjust="spacingAndGlyphs">T</text>
<text x="939.7" y="15.8" font-size="9.5" fill="#404040" textLength="12.3" lengthAdjust="spacingAndGlyphs" stroke="#404040" stroke-width="0.18">M1</text>
<text x="967.7" y="15.8" font-size="9.5" fill="#404040" textLength="12.3" lengthAdjust="spacingAndGlyphs" stroke="#404040" stroke-width="0.18">M5</text>
<text x="993.6" y="15.8" font-size="9.5" fill="#404040" textLength="17.3" lengthAdjust="spacingAndGlyphs" stroke="#404040" stroke-width="0.18">M15</text>
<text x="1021.7" y="15.8" font-size="9.5" fill="#404040" textLength="17.3" lengthAdjust="spacingAndGlyphs" stroke="#404040" stroke-width="0.18">M30</text>
<text x="1052.6" y="15.8" font-size="9.5" fill="#404040" textLength="11.7" lengthAdjust="spacingAndGlyphs" stroke="#404040" stroke-width="0.18">H1</text>
<text x="1079.7" y="15.8" font-size="9.5" fill="#404040" textLength="12.3" lengthAdjust="spacingAndGlyphs" stroke="#404040" stroke-width="0.18">H4</text>
<text x="1108.5" y="15.8" font-size="9.5" fill="#404040" textLength="11.6" lengthAdjust="spacingAndGlyphs" stroke="#404040" stroke-width="0.18">D1</text>
<text x="1136" y="15.8" font-size="9.5" fill="#404040" textLength="13.8" lengthAdjust="spacingAndGlyphs" stroke="#404040" stroke-width="0.18">W1</text>
<text x="1162.5" y="15.8" font-size="9.5" fill="#404040" textLength="14.8" lengthAdjust="spacingAndGlyphs" stroke="#404040" stroke-width="0.18">MN</text>
<text x="1686.6" y="14" font-size="12.5" fill="#fff" text-anchor="middle" font-weight="bold" font-family='"Liberation Serif",serif'>1</text>
</svg>
</body></html>
